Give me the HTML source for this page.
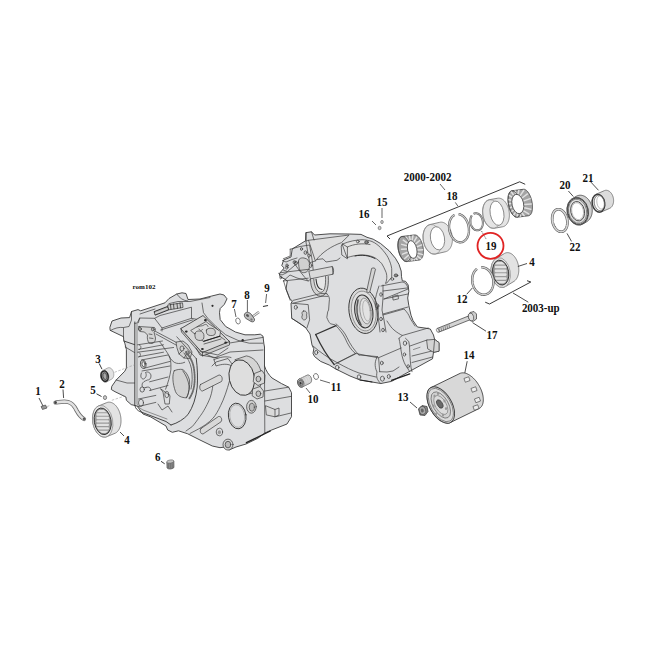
<!DOCTYPE html>
<html><head><meta charset="utf-8">
<style>
html,body{margin:0;padding:0;background:#fff;width:650px;height:650px;overflow:hidden}
svg{display:block}
.t{font-family:"Liberation Serif",serif;font-weight:bold;font-size:11px;fill:#111;text-anchor:middle}
</style></head><body>
<svg width="650" height="650" viewBox="0 0 650 650">
<rect width="650" height="650" fill="#fff"/>
<g id="left" stroke-linejoin="round" stroke-linecap="round">
<!-- silhouette -->
<path fill="#dddee0" stroke="#3a3a3a" stroke-width="0.9" d="M110,327 L112,321 L121,318 L129.6,317.6 L131.5,311.5 L138,309.6 L140.7,310.8 L165,302.8 L169,298.5 L176.8,294 L182,292.8 L186,293.5 L188,299.5 L200,299 L211.8,296 L220,294 L224,295 L227,298.8 L224.3,304.4 L220.2,308.5 L219.5,312.7 L220.2,319.6 L225.7,326.5 L235.4,332 L245,334.8 L254.8,334.8 L260.3,334.2 L263,336.2 L263.8,343.2 L264.5,347 L264.5,366 C266,371 269,375 272,378 L281.4,383.5 L288.7,387.2 L291.5,392.7 L291.5,416.7 L287,424 L270.4,430.5 L264.5,433.2 L257.8,438.3 L246,444 L236,447 L229,450 L225,447 L220,447.7 L212.3,446 L200,440 L187.7,433.8 L178.5,430.8 L172.3,432.3 L167.7,430 L166,426 L150.8,417 L143,414 L137,406 L131.2,404.6 L126.4,400.3 L125.9,397 L115,391.7 L111.3,389.5 L111.8,386.3 L116.2,380 L124.8,371.2 L126.4,368 L126.4,349.7 L124.8,343.2 L123.7,340 L123.5,336.7 L110.5,330.5 Z"/>
<g fill="none" stroke="#3a3a3a" stroke-width="0.7">
<!-- left ear inner -->
<path d="M110.5,330.5 C115,328 119,327 123.5,327.5 L129,326.5 L131.5,320 L131.5,311.5"/>
<path d="M123.5,336.7 L123.5,328"/>
<path stroke="#333" stroke-width="0.9" d="M123.8,341 L134.5,344.6"/><path d="M125.2,347 L134.5,352.5"/>
<path d="M116.2,380 L127,383 L134.5,383"/>
<!-- flange (double line) -->
<path stroke="#333" stroke-width="0.9" d="M134.8,322 L134.8,405 Q135.5,410 141,412 L166,421.5 L171,425"/>
<path stroke="#555" stroke-width="0.6" d="M137,324 L137,404 Q138,408 143,410 L167,419"/>
<!-- top deck lines -->
<path d="M140,314 L155,309 M169,303.6 L178,301.5 L190,301.5 L210,297.5"/>
<path d="M137.7,322 L140,318 L154.6,318.3 L160,315.5 L191.5,307.2 L191.5,318.3 L162,328 L154.6,318.3"/>
<path d="M162,328 L162,331 M191.5,318.3 L205,321"/>
<path d="M154.5,311.5 L167.5,306.5 L168.8,309.8 L155.5,315 Z" fill="#b8b8b8" stroke="#222" stroke-width="0.9"/>
<path d="M155,313.5 L168,308.3" stroke="#eee" stroke-width="0.6"/>
<path d="M168,305 L182.5,302.8 L183,307.5 L169,309.8 Z" fill="#cfcfcf" stroke="#333" stroke-width="0.7"/>
<path stroke="#333" stroke-width="0.8" d="M170.5,304.5 L171,309.3 M173.5,304 L174,308.8 M177,303.5 L177.5,308.3 M180,303 L180.5,307.8"/>

<path d="M176.8,294 Q181,300.5 187.8,301"/>
<!-- lifter guide -->
<path d="M134.8,323.5 L138.5,322.6 L139.5,318"/>
<path d="M139,326.5 L154.5,327.5 C156,329 155.5,331 154,332 L155.5,338 C155.5,341 154.5,343 152,343.5 L149,343 C147.5,341 147,338 147.5,335 L144.5,332 L140,331.5 C138,330.5 138,327.5 139,326.5Z" fill="#d4d4d4"/>
<ellipse cx="140" cy="329" rx="1.4" ry="1.6" fill="#bbb"/>
<ellipse cx="152.8" cy="329.3" rx="1.4" ry="1.6" fill="#bbb"/>
<path d="M149,334 L152,334.5 M149.5,338 L153,338.5"/>
<!-- push rod double line -->
<path d="M155.2,331.2 L178.2,343.4 M156,334 L176.4,345.2"/>
<path d="M160.7,330 L193,319.8"/>
<!-- tubes -->
<path d="M137.6,344.8 L162.5,341 M138.5,349.4 L163.5,344.8"/>
<path d="M139.5,345 C141.5,346 141.5,348.5 139.5,349.5"/>
<path d="M137.6,352.2 L173.6,347.5 M138.5,356.8 L163.5,352.2"/>
<path d="M139,352.5 C141,353.5 141,356 139,357"/>
<ellipse cx="143.2" cy="364.2" rx="2.8" ry="4.2" fill="#cfcfcf" transform="rotate(-10 143.2 364.2)"/>
<ellipse cx="143.5" cy="364.2" rx="1.5" ry="2.6" fill="#f2f2f2" transform="rotate(-10 143.5 364.2)"/>
<path d="M141.3,360 L168,355 M144,368.3 L170,361.4"/>
<path d="M141.5,373 C140,376 141,379 143.5,379 C146,378 147,375 145.5,372.5 C148,371 151,373 151,376 C151,379 149,380 147.5,380 C145,381 142,382 142,385 C142,387.5 144,388.5 146,387.5"/>
<path d="M149.6,381.8 L168,377 M149.6,390.5 L168,385.5 M146,387.5 C149,386 151,388 150.8,390.5"/>
<path d="M142,371 L170,366"/>
<ellipse cx="142.2" cy="389.5" rx="2.2" ry="2.6"/>
<path d="M138.5,399 L155.8,395.4 M138.5,406.5 L155.8,402.4"/>
<ellipse cx="141" cy="402.8" rx="2.5" ry="3.6"/>
<!-- cam chest inner line -->
<path d="M159.8,342 C161.5,344 163,346 164.4,348.5 C166,351 168,353.5 169,355.9 C170.5,359 171,362 170.9,366 L170.9,369.7 C170,376 168,383 165.6,389.2"/>
<path d="M169,355.9 C171,360 173.5,362.5 176.4,363.2 C179,363.8 182,363.5 184.7,362.3"/>
<path d="M160.7,389 L163,392 L165,404 L169.3,404 L170,396 Z"/>
<ellipse cx="166.8" cy="394.5" rx="2" ry="3.2"/>
<path d="M158,404 L162,410 L168,406 L172,412"/>
<!-- cam follower boss -->
<path d="M176.4,342 L183,341 L188,345 L192,352 L190,358.6 L184,358 L179,354 L177,348 Z" fill="#d2d2d2"/>
<ellipse cx="182" cy="348.5" rx="2" ry="2.6"/>
<ellipse cx="187.5" cy="353" rx="1.6" ry="2"/>
<path d="M179,354 L182,351 M184,358 L186,355"/>
<!-- cam crescent -->
<path d="M174.2,370.8 C172,375 172.5,383 175.5,391.7 C177.5,396 181.6,397.8 186.5,397.8 C189,393 190.2,386 189.5,380 C188,375 186,372 182.8,369.5 C180,369 176.5,369.5 174.2,370.8Z" fill="#d2d2d2"/>
<path d="M182.8,370.8 C186,375 188.5,381 189,386 C189.3,391 188.3,395 186.5,397.8"/>
<!-- chain -->
<path stroke="#6a6a6a" stroke-width="1.8" stroke-dasharray="1.4 1" d="M186,352 C190,357 193,362 194,369 C195,376 195,383 193.5,389 C192.5,393 191,396 189,399"/>
<path d="M184,353 C187.5,358 190.5,363 191.5,369 C192.5,376 192.5,383 191,389"/>
<!-- chest wall -->
<path stroke="#333" stroke-width="0.9" d="M196.3,358.7 C197.5,368 197.8,378 197.2,387 C196,398 193,407 188,414.5 C184,419 178,423 171,425"/>
<path d="M176.8,336.8 L196.3,358.7"/>
<!-- skirt -->
<path d="M213,384 C212.5,390 211,397 208.3,402 C205,409 202.5,413 199.7,416.7 C197,420.5 195,423.5 192.3,426.5 L186,431"/>
<path d="M229.5,381 C227,390 224,399 220.6,405.6 C218,411 216,414.5 213.2,418 C208,423.5 203,426.5 198.5,429 L190,433.5"/>
<path d="M214,359.6 C220,357 226,356 231,357.5 M214,359.6 L216,366 C222,364 227,363.5 231,365.5"/>
<!-- ribs -->
<path d="M200.5,384.5 L219,375 C222,375 223,379 221.5,381.5 L202.5,391 C199.5,391 199,386 200.5,384.5Z" fill="#d8d8d8"/>
<path d="M201,428.5 L218.5,416.5 C221.5,416 222.5,420 221,421.8 L203,434 C200,434 199.5,430 201,428.5Z" fill="#d8d8d8"/>
<!-- tappet block -->
<path d="M181,328.5 L181.5,332 L202.5,356 L229.5,345 L229.5,341.5 Z" fill="#cdcdcd"/>
<path d="M202.5,352.5 L202.5,356"/>
<path d="M181,328.5 L203,315.5 L229.5,341.5 L202.5,352.5 Z" fill="#d8d8d8" stroke="#2e2e2e" stroke-width="0.8"/>
<path d="M191,330.3 L206,321.5 L209,324 L220.5,331.5 L219.8,336.2 L203.7,341.3 Z" fill="#dcdcdc"/>
<path d="M195,333.5 C195.5,330.8 199,330.5 201.5,331.5 C204,332.5 204.5,336 203.5,339 C202,341 198.5,340.8 196.5,339.5 C195,338 194.8,336 195,333.5Z" fill="#d0d0d0"/>
<path d="M206.5,330 C207,328 210.5,327.8 213,328.6 C215.5,329.5 216,333 214.5,334.8 C212.5,336 209,335.8 207.5,334.5 C206.3,333 206.2,331.5 206.5,330Z" fill="#d0d0d0"/>
<path d="M197,327 C199,325.5 202,326.5 204,325 C206,323.5 207.5,325 208,326.5"/>
<path d="M199,329 C200,331 201.5,331 202.5,329.5"/>
<path stroke="#222" stroke-width="1.1" d="M203.7,341.3 L219.8,336.2"/>
<path d="M204,344 L221,339 M219.8,336.2 L225,340"/>
<path d="M200,351 L218,355 L228,348 M196,348 L200,355 L218,358"/>
<g fill="#2a2a2a" stroke="none">
<ellipse cx="205.4" cy="320.2" rx="1.4" ry="1.1"/><ellipse cx="186.3" cy="331.6" rx="1.4" ry="1.1"/>
<ellipse cx="225.7" cy="342.6" rx="1.4" ry="1.1"/><ellipse cx="202.4" cy="349" rx="1.4" ry="1.1"/>
<circle cx="212.5" cy="305.8" r="1.1"/><circle cx="242.7" cy="340.2" r="1.2"/>
</g>
<!-- deck inner edge -->
<path d="M202,303 L203.5,312.7 L207.7,318.2 L216,326.5 L225.7,334.8 L238,340.4 L249.2,343.2 L263,343.2"/>
<path d="M229.8,343 L263,337.4"/>
<path d="M206,354 L214,358 L230,352 L263,350"/>
<path d="M212,366 L216,362 L228,358.5 L232,364"/>
<!-- disc (cam cover / boss) -->
<path fill="#d4d4d4" d="M235.3,359.6 L246.4,355.9 C253,357 258.5,362 261.2,372 C263,380 261,388 256,392 L249,394 Z"/>
<ellipse cx="241.8" cy="377.6" rx="12.6" ry="18" transform="rotate(-12 241.8 377.6)" fill="#dedede" stroke="#333" stroke-width="0.9"/>
<!-- side tabs -->
<path d="M254.7,373.4 L262,370.5 L265,375 L264.5,383 L258,385.5 L253.5,382Z" fill="#d8d8d8"/>
<ellipse cx="258.4" cy="379" rx="2.4" ry="2.8" fill="#c4c4c4"/>
<path d="M252.9,389 L260,386.5 L263.5,391 L263,397 L257,399 L252.5,396Z" fill="#d8d8d8"/>
<ellipse cx="258.4" cy="393.7" rx="2.4" ry="2.8" fill="#c4c4c4"/>
<!-- right flange block -->
<path d="M264.5,366 L264.8,433"/>
<path d="M264.9,391 L288.7,387.2 M264.9,401 L291,396.4 M275.8,416.7 L291,413"/>
<path d="M265.8,405.8 L275,409.5 L275,416.8 L266.7,415 Z" fill="#dadada"/>
<path d="M275,409.5 L279,408 L279,415 L275,416.8"/>
<!-- lower oval + small bosses -->
<ellipse cx="237.2" cy="416" rx="8.8" ry="12.9" transform="rotate(-8 237.2 416)" stroke="#333" stroke-width="0.9"/>
<ellipse cx="237.2" cy="416" rx="7.4" ry="11.4" transform="rotate(-8 237.2 416)" stroke="#888" stroke-width="0.5"/>
<ellipse cx="251.4" cy="406.8" rx="4.8" ry="6.4" stroke="#333" fill="#d4d4d4"/>
<ellipse cx="251.8" cy="407.2" rx="2.6" ry="4" fill="#bdbdbd" stroke="#444"/>
<ellipse cx="219.4" cy="432" rx="3.2" ry="3.8" />
<ellipse cx="219.4" cy="432.3" rx="1.6" ry="2" fill="#999" stroke="none"/>
<ellipse cx="228" cy="444.6" rx="5" ry="5.5" stroke="#333" fill="#d6d6d6"/>
<ellipse cx="228" cy="444.6" rx="2.8" ry="3.3" fill="#bbb"/>
<path stroke="#222" stroke-width="1.3" d="M246.4,442.7 L270.4,431"/>
</g>
</g>

<g id="right" stroke-linejoin="round" stroke-linecap="round">
<path fill="#dddee0" stroke="#3a3a3a" stroke-width="0.9" d="M306.2,232.6 L311.5,231.8 L314.6,235 L330,233.8 L349.2,234 L361,234.4 L367,237.3 L373.2,239.2 L380.6,243.5 L389.2,250.8 L395.4,258.2 L399,264.4 L401.2,271 L401.5,276.7 L402.3,280.8 L405.5,281.3 L408.2,285 L408.8,291.5 L407.7,298 L408.8,305.5 L411,315.2 L413,320.6 L417.4,327 L426,328.2 L430.3,329 L433.5,335 L434.6,339.4 L439,342.6 L439,351.2 L433.5,352.3 L432.5,358.8 L411,370.6 L401.2,376 L391.5,381.4 L380.8,383.5 L372,382 L360,380 L350,376 L335.4,368.8 L329.2,365 L320.6,361.4 L314.5,356.5 L313,353.4 L313.8,348.8 L312,345 L310,334 L305.5,327.5 L300,323.8 L291.7,318.3 L291,303.5 L292.3,301 L289.8,298.6 L286,289 L287.3,281 L285,279.2 L280,276.7 L279.3,273.6 L284.2,268 L281.8,265.6 L283.6,260 L291,257 L292.2,249 L305.2,241 Z"/>
<g fill="none" stroke="#3a3a3a" stroke-width="0.7">
<!-- left deck wedge -->
<path d="M306.2,241 L308.5,240.3 L349.2,235 L341.5,242.6 C332,246 322,252 315.4,261 L310,262.6 Z" fill="#dedede"/>
<path d="M308.5,240.3 L315.4,261 M306.2,232.6 L306.2,241 M311.5,231.8 L314,240"/>
<!-- arch deck -->
<path d="M342.5,244 C350,241 356,240 362,239.7 C366,239.8 369,240.5 372,241.5 C375.5,243 378.5,245.5 380.6,247.7 C384,251.5 386.5,254.5 388,257.5 C390,261.5 391.2,265 391.7,268.6 L391.7,277.2 L386.8,283 L385.5,283.4 C386.5,281 386.8,279 386.8,277.2 C386.8,275 386.5,273 385.5,271 C384.5,268.5 383.2,266 381.8,263.7 C379.5,261 377,259 374.5,257.5 C370,255.5 366,255 362,255 C357,255 352,256 347.4,257.5 Z" fill="#e2e2e2"/>
<path d="M342.5,244 L341.2,246 L341.8,255 L347.4,258.8 L347.4,257.5 M342.5,244 L347.4,247 L347.4,257.5"/>
<path d="M355,256 C362,254.3 369,255.5 375,258.5" stroke="#222" stroke-width="0.9"/>
<path d="M347.4,247 C354,244 362,243 370,244.5"/>
<!-- left block with holes -->
<path d="M290.2,249.2 L300,246.5 L309.6,245 L312.4,261.6 L313.8,276.8 L308.2,281 L297,278 L290,275 L283.3,281"/>
<path d="M283.3,258.8 L290.2,256 L290.2,249.2"/>
<path d="M298.5,262 C298,258.5 301,257.5 304,258 C307.5,258.5 309.6,261 309.6,265 C309.6,270 307,272.7 303.5,272.7 C300,272.5 298.7,269 298.5,262Z" fill="#d0d0d0"/>
<g fill="#c4c4c4">
<ellipse cx="295.8" cy="263" rx="1.5" ry="2"/><ellipse cx="310.6" cy="265.5" rx="1.4" ry="2"/>
<ellipse cx="305.5" cy="252.6" rx="1.5" ry="1.8"/><ellipse cx="309" cy="255.6" rx="1.3" ry="1.6"/>
<ellipse cx="287" cy="265.5" rx="1.2" ry="1.6"/><ellipse cx="301.5" cy="249" rx="1.1" ry="1.4"/>
</g>
<path d="M280.5,272.7 L309.6,269.2 M283.3,281 L308.2,278.2"/>
<path d="M282.5,260.5 L286,262 L292,259.5 L297,258 M283.5,270.1 L287.5,271.5 L295.4,264.8"/>
<path d="M278.7,273.4 L282,275 L287,272.5"/>
<ellipse cx="286.8" cy="267.6" rx="1.2" ry="1.6"/>
<ellipse cx="294.3" cy="262.2" rx="1.2" ry="1.6"/>
<ellipse cx="280.8" cy="277.5" rx="1" ry="1.4"/>
<path d="M295.4,264.8 C299,270 303,276 308.3,281"/>
<!-- wavy parting line near deck -->
<path d="M317,259.5 L323,258.8 L326,262 L332.3,261 L337,260.3 L340,258"/>
<!-- horizontal bar -->
<path d="M309.2,271 L332.3,266.5 L333,274.2 L310.8,278.8 Z" fill="#dadada"/>
<path d="M332.3,266.5 C334,268 334,272 333,274.2"/>
<!-- boss ring under bar -->
<path d="M310.5,279.5 C310.5,289 315,296.2 320.5,296.2 C326,296.2 329,289 328.3,276.5" fill="#d2d2d2" stroke="#333"/>
<path d="M313.8,279 C314,286 317,292.3 320.8,292.3 C324.5,292.3 326,286 325.5,276.5" fill="#e6e6e6"/>
<path d="M316,279 C316.5,285 318.5,289.5 322,289.5" stroke="#333" stroke-width="1.1"/>
<!-- left lower block -->
<path d="M283.6,281 L286,289 L290.2,300.4"/>
<path d="M293,300.4 L320.7,293.5 L326.8,293.7 M293,303.2 L322,296.2 L327.6,296.4"/>
<path d="M291.6,303.2 L308.2,304.6 L309.6,319.8 L306.9,328"/>
<ellipse cx="295.8" cy="307.3" rx="1.5" ry="2"/>
<path d="M303.5,311 C306,310.5 307.5,312.5 306.5,315 C307.5,317.5 306,320.5 303.5,319.8 C301.5,319 301.5,316 302.5,315 C301.5,313 302,311.5 303.5,311Z" fill="#cfcfcf"/>
<path d="M291.7,318.3 C296,321 300,323 305.5,327.5"/>
<ellipse cx="316.2" cy="352.5" rx="1.6" ry="2.1"/>
<!-- gasket wavy line -->
<path d="M326.8,293.7 C329,296 330,298 329.2,302 L328.6,310 L327.7,311.8 L326.8,317.4 C328,320.5 329,322.5 330.5,323.8 L335,324.8"/>
<!-- lower quad -->
<path d="M315.7,334.5 L336,325.7" stroke="#333" stroke-width="1.3"/>
<path d="M315.7,334.5 C321,346 327,356 334.2,364.5" stroke="#333" stroke-width="1.3"/>
<path d="M336,325.7 C340,330 343,334 345,338 C348,345 351,350 355.4,353.4 L334.2,364.5"/>
<path d="M336,323.8 C341,328 345,333 347,337.5 C350,344 354,350 359,355"/>
<ellipse cx="337.2" cy="367.5" rx="1.8" ry="2.2"/>
<!-- main bearing boss -->
<ellipse cx="363.5" cy="310.8" rx="14.5" ry="22.8" transform="rotate(-8 363.5 310.8)" fill="#d8d8d8" stroke="#333" stroke-width="0.9"/>
<ellipse cx="363.8" cy="311" rx="12.3" ry="20" transform="rotate(-8 363.8 311)" fill="#e0e0e0" stroke="#666" stroke-width="0.6"/>
<ellipse cx="363.8" cy="311.4" rx="9" ry="16.6" transform="rotate(-8 363.8 311.4)" fill="#d6d6d6" stroke="#333" stroke-width="1"/>
<path d="M358,300 C356,308 357,318 361,325" stroke="#555" stroke-width="1.6"/>
<ellipse cx="365.5" cy="311" rx="5.5" ry="13" transform="rotate(-8 365.5 311)" fill="#e2e2e2" stroke="#666" stroke-width="0.6"/>
<ellipse cx="366.5" cy="310.8" rx="3.6" ry="10.5" transform="rotate(-8 366.5 310.8)" stroke="#888" stroke-width="0.5"/>
<!-- pin -->
<path d="M372,268.2 C373.5,267.5 375,268 375.5,269.2 L369.8,292 C369,293 367.2,292.8 366.8,291.6 Z" fill="#d4d4d4"/>
<!-- bolt holes -->
<ellipse cx="366.5" cy="242.2" rx="1.8" ry="1.5" fill="#888"/>
<ellipse cx="357.8" cy="241.5" rx="1.4" ry="1.3"/>
<ellipse cx="396" cy="275.4" rx="1.8" ry="1.5" fill="#888"/>
<ellipse cx="392.3" cy="279" rx="1.4" ry="1.3"/>
<!-- right boxes -->
<path d="M381,286 L402,282 C405,282 407.5,285 408,289 L384,299"/>
<path d="M383,291 L407,288"/>
<path d="M384,299 L408,294 M383,314 L408,307"/>
<path d="M393,296.4 L398,295 L398.5,298.8 L393.5,300Z"/>
<!-- gasket column -->
<path d="M379,286 C377,292 375.5,297 375,302 C375.5,305 376.5,308 377,311 L379,323 L380,332"/>
<path d="M383,285 L383,298 L382,310 L384,320 L386,332"/>
<ellipse cx="381" cy="294.5" rx="1.3" ry="1.8"/>
<ellipse cx="377.3" cy="306" rx="1.5" ry="2.2"/>
<ellipse cx="381" cy="319" rx="1.3" ry="1.8"/>
<ellipse cx="383" cy="330" rx="1.3" ry="1.8"/>
<!-- big skirt surface lower right -->
<path d="M383,315 L404,309 C407,312 409,315 410,318 C412,321 413.5,324 415,326"/>
<path d="M387,321 C389.5,325 391.5,328 394,330 C397,332.5 399.5,334 402.3,335.5 L428.2,328"/>
<path d="M399,338.3 L402.3,335.5"/>
<!-- gasket column 2 -->
<path d="M399,338.3 C400,343 400.5,347 401.2,351.2 C402,357 403.5,361.5 405.5,365.2 L409.8,371.7" />
<path d="M405.5,338.3 L408.8,341.5 C409.5,345 409.8,349 409.8,352.3 C410,358 410.5,363 411,367.4 L412,371.7"/>
<ellipse cx="405" cy="343.2" rx="1.7" ry="2.2"/>
<ellipse cx="404.5" cy="354.5" rx="1.2" ry="1.6"/>
<ellipse cx="408.2" cy="366.3" rx="1.2" ry="1.6"/>
<path d="M410,346 L427,340 M412,356 L432,351 M412,362.5 L432.5,357"/>
<path d="M413.5,349.5 L420,347.3" stroke="#666"/>
<!-- tab -->
<path d="M427,340 L434.6,339.4 L439,342.6 L439,351.2 L433.5,352.3 L428,349 Z" fill="#d4d4d4"/>
<path d="M434.6,339.4 L433.5,352.3"/>
<!-- lower box -->
<path d="M378.6,357.7 L401.2,348 M378.6,357.7 L379.7,371.7"/>
<path d="M377.5,356.6 C375,360 374,366 377,372 C376,377 377,380 380.8,383.5"/>
<ellipse cx="382.4" cy="378.7" rx="2" ry="2.5"/>
<ellipse cx="388.8" cy="376.5" rx="1.5" ry="2"/>
<ellipse cx="381.8" cy="363" rx="1.4" ry="1.8"/>
<path d="M379.7,371.7 L387,372 L393,371 L399,367"/>
<path d="M391.5,380.3 L409.8,373.8" stroke="#222" stroke-width="1.3"/>
<!-- lower middle -->
<path d="M359,355 L377.5,356.6"/>
<path d="M313,346 C320,352 328,358 337.8,363 C345,367 352,370.5 359,373 L376,377"/>
<ellipse cx="359" cy="377" rx="1.8" ry="2.2"/>
<path d="M337,363 L355.4,354 M355.4,353.4 L377.5,357.7"/>
<path d="M360,380 L372,382" stroke="#222" stroke-width="1"/>
<!-- right vertical line of big face -->
</g>
</g>

<polyline points="114.5,372.3 134.5,364.8" fill="none" stroke="#888" stroke-width="0.5" stroke-dasharray="2.5 1.5"/>
<polyline points="111.8,400.3 124.8,396" fill="none" stroke="#888" stroke-width="0.5" stroke-dasharray="2.5 1.5"/>
<polyline points="39,398 43,406" fill="none" stroke="#222" stroke-width="0.8" />
<path d="M41,406.5 L45.5,405 L47,408 L42.5,409.5Z" fill="#999" stroke="#333" stroke-width="0.6"/>
<polyline points="47,406.5 50,405.5" fill="none" stroke="#888" stroke-width="0.5" stroke-dasharray="2.5 1.5"/>
<polyline points="63,389.5 63.6,398" fill="none" stroke="#222" stroke-width="0.8" />
<path d="M55.5,402.5 C60,402 64,401 68,402 C72,403 74.5,406 76.6,410.5 C78.5,414 80.5,417 84,419" fill="none" stroke="#6a6a6a" stroke-width="4.2" stroke-linecap="round"/>
<path d="M55.5,402.5 C60,402 64,401 68,402 C72,403 74.5,406 76.6,410.5 C78.5,414 80.5,417 84,419" fill="none" stroke="#e2e2e2" stroke-width="2.6" stroke-linecap="round"/>
<ellipse cx="55.60" cy="402.40" rx="1.30" ry="1.50" transform="rotate(0 55.60 402.40)" fill="#444" stroke="none" stroke-width="0" />
<ellipse cx="84.00" cy="418.80" rx="1.20" ry="1.40" transform="rotate(0 84.00 418.80)" fill="#555" stroke="none" stroke-width="0" />
<polyline points="99.2,363.5 102,369.2" fill="none" stroke="#222" stroke-width="0.9" />
<path d="M100.50,375.20 L100.51,374.89 L100.53,374.59 L100.56,374.30 L100.60,374.00 L100.66,373.72 L100.72,373.44 L100.80,373.17 L100.89,372.91 L100.98,372.65 L101.09,372.41 L101.21,372.18 L101.33,371.95 L101.47,371.74 L101.61,371.54 L101.77,371.36 L101.93,371.19 L102.10,371.03 L102.27,370.88 L102.46,370.75 L102.65,370.64 L107.55,368.04 L107.74,367.94 L107.94,367.85 L108.14,367.78 L108.35,367.73 L108.56,367.69 L108.78,367.67 L109.00,367.67 L109.21,367.68 L109.43,367.71 L109.65,367.75 L109.87,367.81 L110.09,367.89 L110.31,367.98 L110.53,368.09 L110.74,368.21 L110.95,368.35 L111.15,368.50 L111.36,368.67 L111.55,368.85 L111.75,369.04 L111.93,369.24 L112.11,369.46 L112.28,369.69 L112.45,369.93 L112.61,370.18 L112.76,370.43 L112.90,370.70 L113.03,370.98 L113.15,371.26 L113.26,371.55 L113.37,371.84 L113.46,372.14 L113.54,372.44 L113.61,372.75 L113.67,373.06 L113.72,373.37 L113.76,373.68 L113.78,373.99 L113.80,374.30 L113.80,374.60 L113.79,374.91 L113.77,375.21 L113.74,375.50 L113.70,375.80 L113.64,376.08 L113.58,376.36 L113.50,376.63 L113.42,376.89 L113.32,377.15 L113.21,377.39 L113.09,377.62 L112.97,377.85 L112.83,378.06 L112.69,378.26 L112.53,378.44 L112.37,378.62 L112.20,378.77 L112.03,378.92 L111.84,379.05 L111.65,379.16 L106.75,381.76 L106.56,381.86 L106.36,381.95 L106.16,382.02 L105.95,382.07 L105.74,382.11 L105.52,382.13 L105.31,382.13 L105.09,382.12 L104.87,382.09 L104.65,382.05 L104.43,381.99 L104.21,381.91 L103.99,381.82 L103.78,381.71 L103.56,381.59 L103.35,381.45 L103.15,381.30 L102.94,381.13 L102.75,380.95 L102.55,380.76 L102.37,380.56 L102.19,380.34 L102.02,380.11 L101.85,379.87 L101.69,379.62 L101.54,379.37 L101.40,379.10 L101.27,378.82 L101.15,378.54 L101.04,378.25 L100.93,377.96 L100.84,377.66 L100.76,377.36 L100.69,377.05 L100.63,376.74 L100.58,376.43 L100.54,376.12 L100.52,375.81 L100.50,375.50Z" fill="#e2e2e2" stroke="#777" stroke-width="0.6" stroke-linejoin="round"/>
<ellipse cx="104.70" cy="376.20" rx="4.10" ry="6.00" transform="rotate(-12 104.70 376.20)" fill="#e0e0e0" stroke="#777" stroke-width="0.6" />
<ellipse cx="104.70" cy="376.20" rx="3.50" ry="5.30" transform="rotate(-12 104.70 376.20)" fill="#8a8a8a" stroke="#1e1e1e" stroke-width="1.3" />
<ellipse cx="104.90" cy="376.20" rx="1.90" ry="3.40" transform="rotate(-12 104.90 376.20)" fill="#a8a8a8" stroke="#333" stroke-width="0.6" />
<polyline points="96.5,393.8 101.5,396.5" fill="none" stroke="#222" stroke-width="0.9" />
<ellipse cx="105.00" cy="397.60" rx="1.60" ry="2.00" transform="rotate(0 105.00 397.60)" fill="#ccc" stroke="#3c3c3c" stroke-width="0.6" />
<path d="M92.47,418.90 L92.47,418.08 L92.51,417.27 L92.57,416.48 L92.66,415.69 L92.78,414.93 L92.93,414.18 L93.10,413.44 L93.30,412.73 L93.52,412.05 L93.77,411.39 L94.05,410.75 L94.34,410.15 L94.66,409.57 L95.01,409.03 L95.37,408.52 L95.75,408.05 L96.16,407.61 L96.58,407.21 L97.01,406.85 L97.47,406.53 L97.94,406.25 L98.42,406.01 L106.52,402.71 L107.01,402.51 L107.51,402.36 L108.02,402.24 L108.54,402.17 L109.07,402.15 L109.60,402.17 L110.13,402.23 L110.67,402.33 L111.20,402.48 L111.73,402.67 L112.27,402.90 L112.80,403.17 L113.32,403.49 L113.83,403.84 L114.34,404.23 L114.84,404.66 L115.33,405.13 L115.80,405.63 L116.26,406.17 L116.70,406.73 L117.13,407.33 L117.55,407.96 L117.94,408.62 L118.31,409.30 L118.67,410.00 L119.00,410.73 L119.31,411.48 L119.59,412.24 L119.86,413.02 L120.09,413.82 L120.30,414.63 L120.49,415.44 L120.65,416.26 L120.78,417.09 L120.89,417.92 L120.96,418.75 L121.01,419.58 L121.03,420.40 L121.03,421.22 L120.99,422.03 L120.93,422.82 L120.84,423.61 L120.72,424.38 L120.57,425.12 L120.40,425.86 L120.20,426.57 L119.98,427.25 L119.73,427.91 L119.45,428.55 L119.16,429.15 L118.84,429.73 L118.49,430.27 L118.13,430.78 L117.75,431.25 L117.34,431.69 L116.92,432.09 L116.49,432.45 L116.03,432.77 L115.56,433.05 L115.08,433.29 L106.98,436.59 L106.49,436.79 L105.99,436.94 L105.48,437.06 L104.96,437.13 L104.43,437.15 L103.90,437.13 L103.37,437.07 L102.83,436.97 L102.30,436.82 L101.77,436.63 L101.23,436.40 L100.70,436.13 L100.18,435.81 L99.67,435.46 L99.16,435.07 L98.66,434.64 L98.17,434.17 L97.70,433.67 L97.24,433.13 L96.80,432.57 L96.37,431.97 L95.95,431.34 L95.56,430.68 L95.19,430.00 L94.83,429.30 L94.50,428.57 L94.19,427.82 L93.91,427.06 L93.64,426.27 L93.41,425.48 L93.20,424.67 L93.01,423.86 L92.85,423.04 L92.72,422.21 L92.61,421.38 L92.54,420.55 L92.49,419.72Z" fill="#e3e3e3" stroke="#5a5a5a" stroke-width="0.7" stroke-linejoin="round"/>
<ellipse cx="102.70" cy="421.30" rx="10.00" ry="16.00" transform="rotate(-10 102.70 421.30)" fill="#e6e6e6" stroke="#777" stroke-width="0.6" />
<ellipse cx="102.70" cy="421.30" rx="8.40" ry="13.44" transform="rotate(-10 102.70 421.30)" fill="#9a9a9a" stroke="#2e2e2e" stroke-width="0.9" />
<clipPath id="k1"><ellipse cx="102.70" cy="421.30" rx="7.56" ry="12.10" transform="rotate(-10 102.70 421.30)"/></clipPath>
<g clip-path="url(#k1)"><rect x="96.40" y="409.90" width="12.60" height="2.35" rx="1.04" fill="#e2e2e2"/><rect x="96.40" y="413.35" width="12.60" height="2.35" rx="1.04" fill="#e2e2e2"/><rect x="96.40" y="416.81" width="12.60" height="2.35" rx="1.04" fill="#e2e2e2"/><rect x="96.40" y="420.26" width="12.60" height="2.35" rx="1.04" fill="#e2e2e2"/><rect x="96.40" y="423.72" width="12.60" height="2.35" rx="1.04" fill="#e2e2e2"/><rect x="96.40" y="427.18" width="12.60" height="2.35" rx="1.04" fill="#e2e2e2"/><rect x="96.40" y="430.63" width="12.60" height="2.35" rx="1.04" fill="#e2e2e2"/></g>
<polyline points="120,432 124,436" fill="none" stroke="#222" stroke-width="0.8" />
<polyline points="161,461.3 164.7,463.8" fill="none" stroke="#222" stroke-width="0.9" />
<path d="M166.8,462 L173.9,461 L174,467.5 C172,469.5 168.5,469.5 167,468 Z" fill="#8c8c8c" stroke="#444" stroke-width="0.6"/>
<ellipse cx="170.30" cy="461.50" rx="3.60" ry="1.60" transform="rotate(-8 170.30 461.50)" fill="#c4c4c4" stroke="#555" stroke-width="0.5" />
<polyline points="168.3,463.2 168.5,468.3" fill="none" stroke="#555" stroke-width="0.5" />
<polyline points="170.20000000000002,463.2 170.4,468.3" fill="none" stroke="#555" stroke-width="0.5" />
<polyline points="172.10000000000002,463.2 172.3,468.3" fill="none" stroke="#555" stroke-width="0.5" />
<polyline points="234.4,309 236,317" fill="none" stroke="#222" stroke-width="0.7" />
<ellipse cx="238.00" cy="321.00" rx="2.20" ry="3.00" transform="rotate(-15 238.00 321.00)" fill="none" stroke="#3c3c3c" stroke-width="0.6" />
<polyline points="247.4,300 247.4,312" fill="none" stroke="#222" stroke-width="0.7" />
<polyline points="252,317 259,312" fill="none" stroke="#777" stroke-width="2.4" />
<polyline points="252,317 259,312" fill="none" stroke="#e6e6e6" stroke-width="1.2" />
<path d="M244.5,314 C246,311.5 249,312 251,314 L254.5,319 C255,321.5 253,322.5 251,321.5 L246,318.5 C244.5,317.5 244,315.5 244.5,314Z" fill="#bdbdbd" stroke="#333" stroke-width="0.7"/>
<ellipse cx="247.50" cy="315.50" rx="1.60" ry="1.20" transform="rotate(35 247.50 315.50)" fill="#555" stroke="none" stroke-width="0" />
<ellipse cx="251.50" cy="319.50" rx="1.30" ry="1.00" transform="rotate(35 251.50 319.50)" fill="#777" stroke="none" stroke-width="0" />
<polyline points="266.6,294 265.6,303" fill="none" stroke="#222" stroke-width="0.7" />
<polyline points="263,306.5 268,305.5" fill="none" stroke="#333" stroke-width="1.2" />
<path d="M297.70,382.24 L297.70,382.02 L297.71,381.81 L297.73,381.60 L297.76,381.39 L297.80,381.19 L297.85,380.99 L297.90,380.80 L297.96,380.61 L298.03,380.43 L298.11,380.26 L298.20,380.10 L298.29,379.94 L298.39,379.79 L298.49,379.65 L298.61,379.52 L298.72,379.40 L298.85,379.29 L298.98,379.19 L299.11,379.10 L299.25,379.02 L306.95,375.22 L307.09,375.15 L307.24,375.09 L307.39,375.05 L307.54,375.01 L307.70,374.99 L307.85,374.98 L308.01,374.98 L308.18,374.99 L308.34,375.01 L308.50,375.04 L308.66,375.09 L308.82,375.15 L308.99,375.21 L309.14,375.29 L309.30,375.38 L309.46,375.48 L309.61,375.59 L309.76,375.71 L309.91,375.84 L310.05,375.98 L310.19,376.13 L310.32,376.29 L310.45,376.45 L310.58,376.62 L310.69,376.80 L310.81,376.99 L310.91,377.18 L311.01,377.38 L311.10,377.58 L311.19,377.78 L311.27,377.99 L311.34,378.21 L311.40,378.42 L311.45,378.64 L311.50,378.86 L311.54,379.08 L311.57,379.30 L311.59,379.52 L311.60,379.75 L311.60,379.96 L311.60,380.18 L311.59,380.39 L311.57,380.60 L311.54,380.81 L311.50,381.01 L311.45,381.21 L311.40,381.40 L311.34,381.59 L311.27,381.77 L311.19,381.94 L311.10,382.10 L311.01,382.26 L310.91,382.41 L310.81,382.55 L310.69,382.68 L310.58,382.80 L310.45,382.91 L310.32,383.01 L310.19,383.10 L310.05,383.18 L302.35,386.98 L302.21,387.05 L302.06,387.11 L301.91,387.15 L301.76,387.19 L301.60,387.21 L301.45,387.22 L301.29,387.22 L301.12,387.21 L300.96,387.19 L300.80,387.16 L300.64,387.11 L300.48,387.05 L300.31,386.99 L300.15,386.91 L300.00,386.82 L299.84,386.72 L299.69,386.61 L299.54,386.49 L299.39,386.36 L299.25,386.22 L299.11,386.07 L298.98,385.91 L298.85,385.75 L298.72,385.58 L298.61,385.40 L298.49,385.21 L298.39,385.02 L298.29,384.82 L298.20,384.62 L298.11,384.42 L298.03,384.21 L297.96,383.99 L297.90,383.78 L297.85,383.56 L297.80,383.34 L297.76,383.12 L297.73,382.90 L297.71,382.68 L297.70,382.45Z" fill="#dcdcdc" stroke="#3c3c3c" stroke-width="0.7" stroke-linejoin="round"/>
<ellipse cx="300.80" cy="383.00" rx="3.00" ry="4.30" transform="rotate(-15 300.80 383.00)" fill="#d4d4d4" stroke="#3c3c3c" stroke-width="0.7" />
<ellipse cx="303.00" cy="381.80" rx="3.00" ry="4.30" transform="rotate(-15 303.00 381.80)" fill="none" stroke="#bdbdbd" stroke-width="0.4" />
<ellipse cx="305.00" cy="380.85" rx="3.00" ry="4.30" transform="rotate(-15 305.00 380.85)" fill="none" stroke="#bdbdbd" stroke-width="0.4" />
<ellipse cx="307.00" cy="379.90" rx="3.00" ry="4.30" transform="rotate(-15 307.00 379.90)" fill="none" stroke="#bdbdbd" stroke-width="0.4" />
<ellipse cx="300.80" cy="383.00" rx="2.10" ry="3.10" transform="rotate(-15 300.80 383.00)" fill="#999" stroke="#333" stroke-width="0.5" />
<ellipse cx="300.60" cy="383.20" rx="0.90" ry="1.30" transform="rotate(-15 300.60 383.20)" fill="#333" stroke="none" stroke-width="0" />
<polyline points="306,388 310,393" fill="none" stroke="#222" stroke-width="0.7" />
<ellipse cx="316.00" cy="376.50" rx="2.40" ry="3.00" transform="rotate(-20 316.00 376.50)" fill="none" stroke="#3c3c3c" stroke-width="0.6" />
<polyline points="320,380 330,383" fill="none" stroke="#222" stroke-width="0.7" />
<polyline points="382,208 382,218" fill="none" stroke="#222" stroke-width="0.7" />
<ellipse cx="382.00" cy="222.00" rx="1.30" ry="1.60" transform="rotate(0 382.00 222.00)" fill="#ccc" stroke="#3c3c3c" stroke-width="0.5" />
<ellipse cx="379.60" cy="228.00" rx="1.50" ry="1.70" transform="rotate(0 379.60 228.00)" fill="#ccc" stroke="#3c3c3c" stroke-width="0.5" />
<polyline points="372,221 376,225" fill="none" stroke="#222" stroke-width="0.7" />
<polyline points="440,184 445,190" fill="none" stroke="#222" stroke-width="0.7" />
<polyline points="390,239 387,236 519.7,181.8 525.2,184.3" fill="none" stroke="#222" stroke-width="0.9" />
<polyline points="455.3,202.4 457.8,206" fill="none" stroke="#222" stroke-width="0.7" />
<clipPath id="q2"><path d="M397.88,245.09 L397.89,244.46 L397.92,243.86 L397.96,243.26 L398.03,242.68 L398.11,242.12 L398.21,241.58 L398.33,241.06 L398.46,240.56 L398.62,240.08 L398.78,239.63 L398.96,239.20 L399.16,238.80 L399.38,238.43 L399.60,238.09 L399.84,237.77 L400.10,237.49 L400.36,237.24 L400.64,237.02 L400.92,236.84 L401.22,236.68 L401.52,236.56 L401.84,236.48 L402.16,236.43 L414.46,234.93 L414.79,234.91 L415.12,234.93 L415.46,234.99 L415.80,235.07 L416.14,235.19 L416.49,235.35 L416.83,235.54 L417.18,235.76 L417.53,236.01 L417.87,236.30 L418.21,236.61 L418.55,236.96 L418.88,237.33 L419.21,237.74 L419.53,238.16 L419.84,238.62 L420.14,239.10 L420.44,239.60 L420.72,240.12 L421.00,240.67 L421.26,241.23 L421.51,241.81 L421.75,242.41 L421.97,243.01 L422.18,243.64 L422.37,244.27 L422.55,244.91 L422.72,245.56 L422.87,246.21 L423.00,246.87 L423.11,247.53 L423.21,248.19 L423.29,248.84 L423.35,249.50 L423.39,250.14 L423.42,250.78 L423.42,251.41 L423.41,252.04 L423.38,252.64 L423.34,253.24 L423.27,253.82 L423.19,254.38 L423.09,254.92 L422.97,255.44 L422.84,255.94 L422.69,256.42 L422.52,256.87 L422.33,257.30 L422.14,257.70 L421.92,258.07 L421.70,258.41 L421.46,258.73 L421.20,259.01 L420.94,259.26 L420.66,259.48 L420.38,259.66 L420.08,259.82 L419.77,259.94 L419.46,260.02 L419.14,260.07 L406.84,261.57 L406.51,261.59 L406.18,261.57 L405.84,261.51 L405.50,261.43 L405.16,261.31 L404.81,261.15 L404.46,260.96 L404.12,260.74 L403.77,260.49 L403.43,260.20 L403.09,259.89 L402.75,259.54 L402.42,259.17 L402.09,258.76 L401.77,258.34 L401.46,257.88 L401.16,257.40 L400.86,256.90 L400.58,256.38 L400.31,255.83 L400.04,255.27 L399.79,254.69 L399.56,254.09 L399.33,253.49 L399.12,252.86 L398.93,252.23 L398.75,251.59 L398.58,250.94 L398.44,250.29 L398.31,249.63 L398.19,248.97 L398.09,248.31 L398.01,247.66 L397.95,247.00 L397.91,246.36 L397.88,245.72Z"/></clipPath>
<path d="M397.88,245.09 L397.89,244.46 L397.92,243.86 L397.96,243.26 L398.03,242.68 L398.11,242.12 L398.21,241.58 L398.33,241.06 L398.46,240.56 L398.62,240.08 L398.78,239.63 L398.96,239.20 L399.16,238.80 L399.38,238.43 L399.60,238.09 L399.84,237.77 L400.10,237.49 L400.36,237.24 L400.64,237.02 L400.92,236.84 L401.22,236.68 L401.52,236.56 L401.84,236.48 L402.16,236.43 L414.46,234.93 L414.79,234.91 L415.12,234.93 L415.46,234.99 L415.80,235.07 L416.14,235.19 L416.49,235.35 L416.83,235.54 L417.18,235.76 L417.53,236.01 L417.87,236.30 L418.21,236.61 L418.55,236.96 L418.88,237.33 L419.21,237.74 L419.53,238.16 L419.84,238.62 L420.14,239.10 L420.44,239.60 L420.72,240.12 L421.00,240.67 L421.26,241.23 L421.51,241.81 L421.75,242.41 L421.97,243.01 L422.18,243.64 L422.37,244.27 L422.55,244.91 L422.72,245.56 L422.87,246.21 L423.00,246.87 L423.11,247.53 L423.21,248.19 L423.29,248.84 L423.35,249.50 L423.39,250.14 L423.42,250.78 L423.42,251.41 L423.41,252.04 L423.38,252.64 L423.34,253.24 L423.27,253.82 L423.19,254.38 L423.09,254.92 L422.97,255.44 L422.84,255.94 L422.69,256.42 L422.52,256.87 L422.33,257.30 L422.14,257.70 L421.92,258.07 L421.70,258.41 L421.46,258.73 L421.20,259.01 L420.94,259.26 L420.66,259.48 L420.38,259.66 L420.08,259.82 L419.77,259.94 L419.46,260.02 L419.14,260.07 L406.84,261.57 L406.51,261.59 L406.18,261.57 L405.84,261.51 L405.50,261.43 L405.16,261.31 L404.81,261.15 L404.46,260.96 L404.12,260.74 L403.77,260.49 L403.43,260.20 L403.09,259.89 L402.75,259.54 L402.42,259.17 L402.09,258.76 L401.77,258.34 L401.46,257.88 L401.16,257.40 L400.86,256.90 L400.58,256.38 L400.31,255.83 L400.04,255.27 L399.79,254.69 L399.56,254.09 L399.33,253.49 L399.12,252.86 L398.93,252.23 L398.75,251.59 L398.58,250.94 L398.44,250.29 L398.31,249.63 L398.19,248.97 L398.09,248.31 L398.01,247.66 L397.95,247.00 L397.91,246.36 L397.88,245.72Z" fill="#a4a4a4" stroke="#3c3c3c" stroke-width="0.8" stroke-linejoin="round"/>
<g clip-path="url(#q2)"><line x1="417.64" y1="250.02" x2="422.91" y2="249.78" stroke="#e0e0e0" stroke-width="1.5" stroke-linecap="round"/><line x1="417.66" y1="253.17" x2="422.66" y2="254.64" stroke="#e0e0e0" stroke-width="1.5" stroke-linecap="round"/><line x1="417.03" y1="255.87" x2="421.15" y2="258.88" stroke="#e0e0e0" stroke-width="1.5" stroke-linecap="round"/><line x1="415.82" y1="257.81" x2="418.55" y2="261.98" stroke="#e0e0e0" stroke-width="1.5" stroke-linecap="round"/><line x1="414.16" y1="258.74" x2="415.19" y2="263.59" stroke="#e0e0e0" stroke-width="1.5" stroke-linecap="round"/><line x1="412.28" y1="258.56" x2="411.47" y2="263.49" stroke="#e0e0e0" stroke-width="1.5" stroke-linecap="round"/><line x1="410.38" y1="257.29" x2="407.84" y2="261.70" stroke="#e0e0e0" stroke-width="1.5" stroke-linecap="round"/><line x1="408.70" y1="255.07" x2="404.73" y2="258.45" stroke="#e0e0e0" stroke-width="1.5" stroke-linecap="round"/><line x1="407.45" y1="252.19" x2="402.53" y2="254.11" stroke="#e0e0e0" stroke-width="1.5" stroke-linecap="round"/><line x1="406.76" y1="248.98" x2="401.49" y2="249.22" stroke="#e0e0e0" stroke-width="1.5" stroke-linecap="round"/><line x1="406.74" y1="245.83" x2="401.74" y2="244.36" stroke="#e0e0e0" stroke-width="1.5" stroke-linecap="round"/><line x1="407.37" y1="243.13" x2="403.25" y2="240.12" stroke="#e0e0e0" stroke-width="1.5" stroke-linecap="round"/><line x1="408.58" y1="241.19" x2="405.85" y2="237.02" stroke="#e0e0e0" stroke-width="1.5" stroke-linecap="round"/><line x1="410.24" y1="240.26" x2="409.21" y2="235.41" stroke="#e0e0e0" stroke-width="1.5" stroke-linecap="round"/><line x1="412.12" y1="240.44" x2="412.93" y2="235.51" stroke="#e0e0e0" stroke-width="1.5" stroke-linecap="round"/><line x1="414.02" y1="241.71" x2="416.56" y2="237.30" stroke="#e0e0e0" stroke-width="1.5" stroke-linecap="round"/><line x1="415.70" y1="243.93" x2="419.67" y2="240.55" stroke="#e0e0e0" stroke-width="1.5" stroke-linecap="round"/><line x1="416.95" y1="246.81" x2="421.87" y2="244.89" stroke="#e0e0e0" stroke-width="1.5" stroke-linecap="round"/></g>
<ellipse cx="404.50" cy="249.00" rx="6.20" ry="12.80" transform="rotate(-12 404.50 249.00)" fill="none" stroke="#444" stroke-width="0.7" />
<ellipse cx="412.20" cy="249.50" rx="4.60" ry="9.00" transform="rotate(-12 412.20 249.50)" fill="#fff" stroke="#444" stroke-width="0.8" />
<path d="M422.99,237.07 L423.00,236.30 L423.03,235.55 L423.09,234.80 L423.18,234.06 L423.30,233.34 L423.44,232.64 L423.60,231.95 L423.79,231.29 L424.00,230.64 L424.24,230.02 L424.50,229.43 L424.79,228.86 L425.09,228.32 L425.42,227.81 L425.77,227.33 L426.13,226.89 L426.51,226.48 L426.92,226.10 L427.33,225.76 L427.76,225.46 L428.21,225.19 L428.66,224.97 L429.13,224.78 L429.61,224.63 L439.61,222.33 L440.10,222.23 L440.59,222.16 L441.09,222.14 L441.59,222.15 L442.10,222.21 L442.61,222.30 L443.11,222.44 L443.62,222.62 L444.13,222.83 L444.63,223.09 L445.12,223.38 L445.61,223.71 L446.09,224.08 L446.56,224.48 L447.02,224.92 L447.47,225.39 L447.91,225.89 L448.33,226.42 L448.74,226.98 L449.13,227.57 L449.50,228.19 L449.85,228.82 L450.19,229.49 L450.50,230.17 L450.79,230.87 L451.06,231.58 L451.31,232.31 L451.53,233.06 L451.73,233.81 L451.91,234.58 L452.06,235.35 L452.18,236.13 L452.28,236.90 L452.35,237.68 L452.39,238.46 L452.41,239.23 L452.40,240.00 L452.37,240.75 L452.31,241.50 L452.22,242.24 L452.11,242.96 L451.96,243.66 L451.80,244.35 L451.61,245.01 L451.40,245.66 L451.16,246.28 L450.90,246.87 L450.61,247.44 L450.31,247.98 L449.98,248.49 L449.63,248.97 L449.27,249.41 L448.88,249.82 L448.48,250.20 L448.07,250.54 L447.64,250.84 L447.19,251.11 L446.74,251.33 L446.27,251.52 L445.79,251.67 L435.79,253.97 L435.31,254.07 L434.81,254.14 L434.31,254.16 L433.81,254.15 L433.30,254.09 L432.80,254.00 L432.29,253.86 L431.78,253.68 L431.27,253.47 L430.77,253.21 L430.28,252.92 L429.79,252.59 L429.31,252.22 L428.84,251.82 L428.38,251.38 L427.93,250.91 L427.49,250.41 L427.07,249.88 L426.66,249.32 L426.27,248.73 L425.90,248.12 L425.55,247.48 L425.21,246.81 L424.90,246.13 L424.61,245.43 L424.34,244.72 L424.09,243.99 L423.87,243.24 L423.67,242.49 L423.49,241.72 L423.34,240.95 L423.22,240.17 L423.12,239.40 L423.05,238.62 L423.01,237.84Z" fill="#e4e4e4" stroke="#707070" stroke-width="0.8" stroke-linejoin="round"/>
<ellipse cx="432.70" cy="239.30" rx="9.50" ry="15.00" transform="rotate(-10 432.70 239.30)" fill="none" stroke="#8a8a8a" stroke-width="0.6" />
<ellipse cx="437.50" cy="238.30" rx="7.00" ry="11.70" transform="rotate(-10 437.50 238.30)" fill="#fff" stroke="#666" stroke-width="0.7" />
<path d="M458.59,214.17 L459.24,214.28 L459.89,214.45 L460.54,214.68 L461.17,214.96 L461.80,215.30 L462.42,215.70 L463.02,216.15 L463.60,216.65 L464.17,217.20 L464.71,217.80 L465.23,218.44 L465.73,219.12 L466.19,219.84 L466.62,220.60 L467.02,221.38 L467.39,222.20 L467.72,223.04 L468.02,223.91 L468.27,224.79 L468.49,225.69 L468.67,226.60 L468.80,227.51 L468.90,228.43 L468.95,229.34 L468.96,230.26 L468.93,231.16 L468.85,232.05 L468.74,232.92 L468.58,233.78 L468.38,234.61 L468.14,235.41 L467.86,236.18 L467.55,236.92 L467.20,237.63 L466.81,238.29 L466.39,238.91 L465.94,239.48 L465.46,240.01 L464.96,240.48 L464.43,240.90 L463.87,241.27 L463.29,241.59 L462.70,241.84 L462.09,242.04 L461.47,242.18 L460.83,242.27 L460.19,242.29 L459.54,242.25 L458.90,242.15 L458.25,241.99 L457.60,241.78 L456.96,241.50 L456.33,241.17 L455.71,240.79 L455.11,240.35 L454.52,239.86 L453.95,239.32 L453.40,238.74 L452.88,238.10 L452.38,237.43 L451.91,236.72 L451.47,235.97 L451.06,235.19 L450.68,234.38 L450.34,233.54 L450.04,232.68 L449.78,231.80 L449.55,230.91 L449.37,230.00 L449.22,229.09 L449.12,228.17 L449.06,227.25 L449.04,226.34 L449.06,225.43 L449.13,224.54 L449.24,223.66 L449.38,222.80 L449.57,221.97 L449.80,221.16 L450.07,220.38 L450.38,219.63 L450.72,218.92 L451.10,218.25 L451.51,217.62 L451.96,217.04 L452.43,216.50 L452.93,216.02 L453.46,215.58 L454.01,215.20 L454.58,214.88" fill="none" stroke="#555" stroke-width="2.3" stroke-linecap="butt"/>
<path d="M458.59,214.17 L459.24,214.28 L459.89,214.45 L460.54,214.68 L461.17,214.96 L461.80,215.30 L462.42,215.70 L463.02,216.15 L463.60,216.65 L464.17,217.20 L464.71,217.80 L465.23,218.44 L465.73,219.12 L466.19,219.84 L466.62,220.60 L467.02,221.38 L467.39,222.20 L467.72,223.04 L468.02,223.91 L468.27,224.79 L468.49,225.69 L468.67,226.60 L468.80,227.51 L468.90,228.43 L468.95,229.34 L468.96,230.26 L468.93,231.16 L468.85,232.05 L468.74,232.92 L468.58,233.78 L468.38,234.61 L468.14,235.41 L467.86,236.18 L467.55,236.92 L467.20,237.63 L466.81,238.29 L466.39,238.91 L465.94,239.48 L465.46,240.01 L464.96,240.48 L464.43,240.90 L463.87,241.27 L463.29,241.59 L462.70,241.84 L462.09,242.04 L461.47,242.18 L460.83,242.27 L460.19,242.29 L459.54,242.25 L458.90,242.15 L458.25,241.99 L457.60,241.78 L456.96,241.50 L456.33,241.17 L455.71,240.79 L455.11,240.35 L454.52,239.86 L453.95,239.32 L453.40,238.74 L452.88,238.10 L452.38,237.43 L451.91,236.72 L451.47,235.97 L451.06,235.19 L450.68,234.38 L450.34,233.54 L450.04,232.68 L449.78,231.80 L449.55,230.91 L449.37,230.00 L449.22,229.09 L449.12,228.17 L449.06,227.25 L449.04,226.34 L449.06,225.43 L449.13,224.54 L449.24,223.66 L449.38,222.80 L449.57,221.97 L449.80,221.16 L450.07,220.38 L450.38,219.63 L450.72,218.92 L451.10,218.25 L451.51,217.62 L451.96,217.04 L452.43,216.50 L452.93,216.02 L453.46,215.58 L454.01,215.20 L454.58,214.88" fill="none" stroke="#d0d0d0" stroke-width="1.2" stroke-linecap="butt"/>
<path d="M473.58,213.90 L473.95,213.70 L474.33,213.54 L474.72,213.42 L475.12,213.33 L475.52,213.28 L475.93,213.26 L476.35,213.29 L476.76,213.35 L477.18,213.44 L477.59,213.57 L477.99,213.74 L478.39,213.95 L478.79,214.18 L479.17,214.45 L479.54,214.76 L479.90,215.09 L480.25,215.45 L480.58,215.84 L480.89,216.26 L481.18,216.70 L481.46,217.16 L481.71,217.64 L481.94,218.14 L482.15,218.66 L482.33,219.19 L482.49,219.73 L482.62,220.28 L482.73,220.84 L482.81,221.40 L482.86,221.96 L482.88,222.52 L482.88,223.08 L482.85,223.64 L482.80,224.18 L482.71,224.72 L482.60,225.24 L482.47,225.75 L482.31,226.24 L482.12,226.71 L481.91,227.16 L481.68,227.58 L481.42,227.98 L481.14,228.36 L480.85,228.71 L480.53,229.02 L480.20,229.31 L479.86,229.56 L479.49,229.78 L479.12,229.96 L478.73,230.11 L478.34,230.22 L477.94,230.29 L477.53,230.33 L477.12,230.33 L476.71,230.30 L476.29,230.23 L475.88,230.12 L475.47,229.97 L475.06,229.79 L474.67,229.57 L474.28,229.32 L473.90,229.04 L473.53,228.73 L473.17,228.38 L472.83,228.01 L472.51,227.61 L472.20,227.19 L471.92,226.74 L471.65,226.27 L471.41,225.78 L471.19,225.28 L470.99,224.75 L470.81,224.22 L470.66,223.68 L470.54,223.12 L470.44,222.56 L470.37,222.00 L470.33,221.44 L470.31,220.88 L470.33,220.32 L470.36,219.77 L470.43,219.23 L470.52,218.70 L470.64,218.18 L470.79,217.68 L470.96,217.19 L471.15,216.73 L471.37,216.29 L471.61,215.87 L471.87,215.48" fill="none" stroke="#555" stroke-width="2.0" stroke-linecap="butt"/>
<path d="M473.58,213.90 L473.95,213.70 L474.33,213.54 L474.72,213.42 L475.12,213.33 L475.52,213.28 L475.93,213.26 L476.35,213.29 L476.76,213.35 L477.18,213.44 L477.59,213.57 L477.99,213.74 L478.39,213.95 L478.79,214.18 L479.17,214.45 L479.54,214.76 L479.90,215.09 L480.25,215.45 L480.58,215.84 L480.89,216.26 L481.18,216.70 L481.46,217.16 L481.71,217.64 L481.94,218.14 L482.15,218.66 L482.33,219.19 L482.49,219.73 L482.62,220.28 L482.73,220.84 L482.81,221.40 L482.86,221.96 L482.88,222.52 L482.88,223.08 L482.85,223.64 L482.80,224.18 L482.71,224.72 L482.60,225.24 L482.47,225.75 L482.31,226.24 L482.12,226.71 L481.91,227.16 L481.68,227.58 L481.42,227.98 L481.14,228.36 L480.85,228.71 L480.53,229.02 L480.20,229.31 L479.86,229.56 L479.49,229.78 L479.12,229.96 L478.73,230.11 L478.34,230.22 L477.94,230.29 L477.53,230.33 L477.12,230.33 L476.71,230.30 L476.29,230.23 L475.88,230.12 L475.47,229.97 L475.06,229.79 L474.67,229.57 L474.28,229.32 L473.90,229.04 L473.53,228.73 L473.17,228.38 L472.83,228.01 L472.51,227.61 L472.20,227.19 L471.92,226.74 L471.65,226.27 L471.41,225.78 L471.19,225.28 L470.99,224.75 L470.81,224.22 L470.66,223.68 L470.54,223.12 L470.44,222.56 L470.37,222.00 L470.33,221.44 L470.31,220.88 L470.33,220.32 L470.36,219.77 L470.43,219.23 L470.52,218.70 L470.64,218.18 L470.79,217.68 L470.96,217.19 L471.15,216.73 L471.37,216.29 L471.61,215.87 L471.87,215.48" fill="none" stroke="#ddd" stroke-width="0.9" stroke-linecap="butt"/>
<polyline points="481.5,231 486.5,239.7" fill="none" stroke="#333" stroke-width="0.7" stroke-dasharray="1.5 1"/>
<path d="M482.59,211.81 L482.59,211.07 L482.62,210.34 L482.68,209.62 L482.76,208.91 L482.87,208.21 L483.00,207.53 L483.15,206.87 L483.33,206.23 L483.53,205.61 L483.75,205.01 L484.00,204.43 L484.26,203.89 L484.55,203.37 L484.86,202.88 L485.19,202.41 L485.53,201.99 L485.89,201.59 L486.27,201.23 L486.67,200.90 L487.07,200.61 L487.49,200.36 L487.93,200.14 L488.37,199.96 L488.82,199.82 L489.28,199.72 L497.68,198.22 L498.15,198.16 L498.62,198.13 L499.10,198.15 L499.58,198.21 L500.06,198.30 L500.54,198.44 L501.03,198.61 L501.50,198.82 L501.98,199.07 L502.45,199.35 L502.92,199.67 L503.37,200.03 L503.82,200.42 L504.26,200.84 L504.69,201.30 L505.10,201.78 L505.50,202.30 L505.89,202.84 L506.26,203.41 L506.62,204.01 L506.95,204.62 L507.27,205.26 L507.57,205.92 L507.85,206.60 L508.11,207.29 L508.35,208.00 L508.56,208.72 L508.75,209.45 L508.92,210.19 L509.06,210.94 L509.18,211.69 L509.28,212.44 L509.35,213.19 L509.39,213.94 L509.41,214.69 L509.41,215.43 L509.38,216.16 L509.32,216.88 L509.24,217.59 L509.13,218.29 L509.00,218.97 L508.85,219.63 L508.67,220.27 L508.47,220.89 L508.25,221.49 L508.00,222.07 L507.74,222.61 L507.45,223.13 L507.14,223.62 L506.81,224.09 L506.47,224.51 L506.11,224.91 L505.73,225.27 L505.33,225.60 L504.93,225.89 L504.51,226.14 L504.07,226.36 L503.63,226.54 L503.18,226.68 L502.72,226.78 L494.32,228.28 L493.85,228.34 L493.38,228.37 L492.90,228.35 L492.42,228.29 L491.94,228.20 L491.46,228.06 L490.97,227.89 L490.50,227.68 L490.02,227.43 L489.55,227.15 L489.08,226.83 L488.63,226.47 L488.18,226.08 L487.74,225.66 L487.31,225.20 L486.90,224.72 L486.50,224.20 L486.11,223.66 L485.74,223.09 L485.38,222.49 L485.05,221.88 L484.73,221.24 L484.43,220.58 L484.15,219.90 L483.89,219.21 L483.65,218.50 L483.44,217.78 L483.25,217.05 L483.08,216.31 L482.94,215.56 L482.82,214.81 L482.72,214.06 L482.65,213.31 L482.61,212.56Z" fill="#e4e4e4" stroke="#707070" stroke-width="0.8" stroke-linejoin="round"/>
<ellipse cx="491.80" cy="214.00" rx="9.00" ry="14.50" transform="rotate(-10 491.80 214.00)" fill="none" stroke="#8a8a8a" stroke-width="0.6" />
<ellipse cx="497.00" cy="213.20" rx="6.80" ry="12.30" transform="rotate(-10 497.00 213.20)" fill="#fff" stroke="#666" stroke-width="0.7" />
<clipPath id="q3"><path d="M508.00,199.12 L508.01,198.48 L508.05,197.85 L508.10,197.25 L508.17,196.66 L508.26,196.09 L508.37,195.54 L508.49,195.02 L508.62,194.52 L508.78,194.05 L508.95,193.60 L509.13,193.19 L509.33,192.80 L509.55,192.44 L509.78,192.12 L510.02,191.83 L510.27,191.57 L510.53,191.34 L510.81,191.15 L511.10,191.00 L511.39,190.88 L511.69,190.79 L512.00,190.75 L523.50,189.25 L523.82,189.24 L524.15,189.26 L524.48,189.32 L524.81,189.42 L525.14,189.56 L525.48,189.72 L525.82,189.93 L526.16,190.17 L526.50,190.44 L526.84,190.75 L527.18,191.08 L527.51,191.45 L527.84,191.85 L528.16,192.28 L528.48,192.74 L528.79,193.22 L529.10,193.73 L529.39,194.26 L529.68,194.82 L529.96,195.39 L530.22,195.99 L530.47,196.60 L530.71,197.23 L530.94,197.88 L531.16,198.53 L531.36,199.20 L531.54,199.88 L531.71,200.56 L531.87,201.25 L532.01,201.94 L532.13,202.64 L532.24,203.33 L532.32,204.03 L532.39,204.71 L532.45,205.39 L532.49,206.07 L532.50,206.73 L532.50,207.38 L532.49,208.02 L532.45,208.65 L532.40,209.25 L532.33,209.84 L532.24,210.41 L532.13,210.96 L532.01,211.48 L531.88,211.98 L531.72,212.45 L531.55,212.90 L531.37,213.31 L531.16,213.70 L530.95,214.06 L530.72,214.38 L530.48,214.67 L530.23,214.93 L529.97,215.16 L529.69,215.35 L529.40,215.50 L529.11,215.62 L528.81,215.71 L528.50,215.75 L517.00,217.25 L516.68,217.26 L516.35,217.24 L516.02,217.18 L515.69,217.08 L515.36,216.94 L515.02,216.78 L514.68,216.57 L514.34,216.33 L514.00,216.06 L513.66,215.75 L513.32,215.42 L512.99,215.05 L512.66,214.65 L512.34,214.22 L512.02,213.76 L511.70,213.28 L511.40,212.77 L511.11,212.24 L510.82,211.68 L510.55,211.11 L510.28,210.51 L510.03,209.90 L509.79,209.27 L509.56,208.62 L509.34,207.97 L509.14,207.30 L508.96,206.62 L508.79,205.94 L508.63,205.25 L508.49,204.56 L508.37,203.86 L508.26,203.17 L508.18,202.47 L508.11,201.79 L508.05,201.11 L508.01,200.43 L508.00,199.77Z"/></clipPath>
<path d="M508.00,199.12 L508.01,198.48 L508.05,197.85 L508.10,197.25 L508.17,196.66 L508.26,196.09 L508.37,195.54 L508.49,195.02 L508.62,194.52 L508.78,194.05 L508.95,193.60 L509.13,193.19 L509.33,192.80 L509.55,192.44 L509.78,192.12 L510.02,191.83 L510.27,191.57 L510.53,191.34 L510.81,191.15 L511.10,191.00 L511.39,190.88 L511.69,190.79 L512.00,190.75 L523.50,189.25 L523.82,189.24 L524.15,189.26 L524.48,189.32 L524.81,189.42 L525.14,189.56 L525.48,189.72 L525.82,189.93 L526.16,190.17 L526.50,190.44 L526.84,190.75 L527.18,191.08 L527.51,191.45 L527.84,191.85 L528.16,192.28 L528.48,192.74 L528.79,193.22 L529.10,193.73 L529.39,194.26 L529.68,194.82 L529.96,195.39 L530.22,195.99 L530.47,196.60 L530.71,197.23 L530.94,197.88 L531.16,198.53 L531.36,199.20 L531.54,199.88 L531.71,200.56 L531.87,201.25 L532.01,201.94 L532.13,202.64 L532.24,203.33 L532.32,204.03 L532.39,204.71 L532.45,205.39 L532.49,206.07 L532.50,206.73 L532.50,207.38 L532.49,208.02 L532.45,208.65 L532.40,209.25 L532.33,209.84 L532.24,210.41 L532.13,210.96 L532.01,211.48 L531.88,211.98 L531.72,212.45 L531.55,212.90 L531.37,213.31 L531.16,213.70 L530.95,214.06 L530.72,214.38 L530.48,214.67 L530.23,214.93 L529.97,215.16 L529.69,215.35 L529.40,215.50 L529.11,215.62 L528.81,215.71 L528.50,215.75 L517.00,217.25 L516.68,217.26 L516.35,217.24 L516.02,217.18 L515.69,217.08 L515.36,216.94 L515.02,216.78 L514.68,216.57 L514.34,216.33 L514.00,216.06 L513.66,215.75 L513.32,215.42 L512.99,215.05 L512.66,214.65 L512.34,214.22 L512.02,213.76 L511.70,213.28 L511.40,212.77 L511.11,212.24 L510.82,211.68 L510.55,211.11 L510.28,210.51 L510.03,209.90 L509.79,209.27 L509.56,208.62 L509.34,207.97 L509.14,207.30 L508.96,206.62 L508.79,205.94 L508.63,205.25 L508.49,204.56 L508.37,203.86 L508.26,203.17 L508.18,202.47 L508.11,201.79 L508.05,201.11 L508.01,200.43 L508.00,199.77Z" fill="#a4a4a4" stroke="#3c3c3c" stroke-width="0.8" stroke-linejoin="round"/>
<g clip-path="url(#q3)"><line x1="524.60" y1="204.38" x2="531.22" y2="203.93" stroke="#e0e0e0" stroke-width="1.5" stroke-linecap="round"/><line x1="524.52" y1="207.83" x2="530.73" y2="209.27" stroke="#e0e0e0" stroke-width="1.5" stroke-linecap="round"/><line x1="523.63" y1="210.82" x2="528.68" y2="213.97" stroke="#e0e0e0" stroke-width="1.5" stroke-linecap="round"/><line x1="522.04" y1="212.98" x2="525.33" y2="217.46" stroke="#e0e0e0" stroke-width="1.5" stroke-linecap="round"/><line x1="519.94" y1="214.07" x2="521.06" y2="219.34" stroke="#e0e0e0" stroke-width="1.5" stroke-linecap="round"/><line x1="517.58" y1="213.93" x2="516.40" y2="219.36" stroke="#e0e0e0" stroke-width="1.5" stroke-linecap="round"/><line x1="515.25" y1="212.60" x2="511.91" y2="217.53" stroke="#e0e0e0" stroke-width="1.5" stroke-linecap="round"/><line x1="513.22" y1="210.23" x2="508.13" y2="214.07" stroke="#e0e0e0" stroke-width="1.5" stroke-linecap="round"/><line x1="511.75" y1="207.11" x2="505.52" y2="209.39" stroke="#e0e0e0" stroke-width="1.5" stroke-linecap="round"/><line x1="511.00" y1="203.62" x2="504.38" y2="204.07" stroke="#e0e0e0" stroke-width="1.5" stroke-linecap="round"/><line x1="511.08" y1="200.17" x2="504.87" y2="198.73" stroke="#e0e0e0" stroke-width="1.5" stroke-linecap="round"/><line x1="511.97" y1="197.18" x2="506.92" y2="194.03" stroke="#e0e0e0" stroke-width="1.5" stroke-linecap="round"/><line x1="513.56" y1="195.02" x2="510.27" y2="190.54" stroke="#e0e0e0" stroke-width="1.5" stroke-linecap="round"/><line x1="515.66" y1="193.93" x2="514.54" y2="188.66" stroke="#e0e0e0" stroke-width="1.5" stroke-linecap="round"/><line x1="518.02" y1="194.07" x2="519.20" y2="188.64" stroke="#e0e0e0" stroke-width="1.5" stroke-linecap="round"/><line x1="520.35" y1="195.40" x2="523.69" y2="190.47" stroke="#e0e0e0" stroke-width="1.5" stroke-linecap="round"/><line x1="522.38" y1="197.77" x2="527.47" y2="193.93" stroke="#e0e0e0" stroke-width="1.5" stroke-linecap="round"/><line x1="523.85" y1="200.89" x2="530.08" y2="198.61" stroke="#e0e0e0" stroke-width="1.5" stroke-linecap="round"/></g>
<ellipse cx="514.50" cy="204.00" rx="6.00" ry="13.50" transform="rotate(-12 514.50 204.00)" fill="none" stroke="#444" stroke-width="0.7" />
<ellipse cx="517.80" cy="204.00" rx="5.80" ry="9.80" transform="rotate(-12 517.80 204.00)" fill="#fff" stroke="#444" stroke-width="0.8" />
<path d="M490.99,270.37 L491.00,269.60 L491.03,268.85 L491.09,268.10 L491.18,267.36 L491.30,266.64 L491.44,265.94 L491.60,265.25 L491.79,264.59 L492.00,263.94 L492.24,263.32 L492.50,262.73 L492.79,262.16 L493.09,261.62 L493.42,261.11 L493.77,260.63 L494.13,260.19 L494.51,259.78 L494.92,259.40 L495.33,259.06 L495.76,258.76 L504.16,253.66 L504.61,253.39 L505.06,253.17 L505.53,252.98 L506.01,252.83 L506.50,252.73 L506.99,252.66 L507.49,252.64 L507.99,252.65 L508.50,252.71 L509.00,252.80 L509.51,252.94 L510.02,253.12 L510.53,253.33 L511.03,253.59 L511.52,253.88 L512.01,254.21 L512.49,254.58 L512.96,254.98 L513.42,255.42 L513.87,255.89 L514.31,256.39 L514.73,256.92 L515.14,257.48 L515.53,258.07 L515.90,258.69 L516.25,259.32 L516.59,259.99 L516.90,260.67 L517.19,261.37 L517.46,262.08 L517.71,262.81 L517.93,263.56 L518.13,264.31 L518.31,265.08 L518.46,265.85 L518.58,266.63 L518.68,267.40 L518.75,268.18 L518.79,268.96 L518.81,269.73 L518.80,270.50 L518.77,271.25 L518.71,272.00 L518.62,272.74 L518.50,273.46 L518.37,274.16 L518.20,274.85 L518.01,275.51 L517.80,276.16 L517.56,276.78 L517.30,277.37 L517.01,277.94 L516.71,278.48 L516.38,278.99 L516.03,279.47 L515.67,279.91 L515.28,280.32 L514.88,280.70 L514.47,281.04 L514.04,281.34 L505.64,286.44 L505.19,286.71 L504.74,286.93 L504.27,287.12 L503.79,287.27 L503.31,287.37 L502.81,287.44 L502.31,287.46 L501.81,287.45 L501.30,287.39 L500.80,287.30 L500.29,287.16 L499.78,286.98 L499.27,286.77 L498.77,286.51 L498.28,286.22 L497.79,285.89 L497.31,285.52 L496.84,285.12 L496.38,284.68 L495.93,284.21 L495.49,283.71 L495.07,283.18 L494.66,282.62 L494.27,282.03 L493.90,281.42 L493.55,280.78 L493.21,280.12 L492.90,279.43 L492.61,278.73 L492.34,278.02 L492.09,277.29 L491.87,276.54 L491.67,275.79 L491.49,275.02 L491.34,274.25 L491.22,273.47 L491.12,272.70 L491.05,271.92 L491.01,271.14Z" fill="#e3e3e3" stroke="#5a5a5a" stroke-width="0.7" stroke-linejoin="round"/>
<ellipse cx="500.70" cy="272.60" rx="9.50" ry="15.00" transform="rotate(-10 500.70 272.60)" fill="#e6e6e6" stroke="#777" stroke-width="0.6" />
<ellipse cx="500.70" cy="272.60" rx="7.98" ry="12.60" transform="rotate(-10 500.70 272.60)" fill="#9a9a9a" stroke="#2e2e2e" stroke-width="0.9" />
<clipPath id="k4"><ellipse cx="500.70" cy="272.60" rx="7.18" ry="11.34" transform="rotate(-10 500.70 272.60)"/></clipPath>
<g clip-path="url(#k4)"><rect x="494.71" y="262.02" width="11.97" height="2.57" rx="1.13" fill="#e2e2e2"/><rect x="494.71" y="265.80" width="11.97" height="2.57" rx="1.13" fill="#e2e2e2"/><rect x="494.71" y="269.58" width="11.97" height="2.57" rx="1.13" fill="#e2e2e2"/><rect x="494.71" y="273.36" width="11.97" height="2.57" rx="1.13" fill="#e2e2e2"/><rect x="494.71" y="277.14" width="11.97" height="2.57" rx="1.13" fill="#e2e2e2"/><rect x="494.71" y="280.92" width="11.97" height="2.57" rx="1.13" fill="#e2e2e2"/></g>
<polyline points="517.8,266.5 527,263.5" fill="none" stroke="#222" stroke-width="0.8" />
<path d="M481.31,267.30 L482.00,267.29 L482.69,267.34 L483.38,267.44 L484.06,267.60 L484.75,267.82 L485.42,268.09 L486.08,268.42 L486.73,268.80 L487.36,269.23 L487.97,269.71 L488.57,270.24 L489.13,270.81 L489.67,271.43 L490.18,272.09 L490.66,272.78 L491.11,273.51 L491.52,274.28 L491.89,275.07 L492.23,275.88 L492.53,276.72 L492.78,277.57 L493.00,278.44 L493.17,279.32 L493.29,280.21 L493.37,281.10 L493.41,281.99 L493.40,282.87 L493.35,283.75 L493.26,284.62 L493.12,285.47 L492.93,286.30 L492.71,287.11 L492.44,287.90 L492.13,288.65 L491.78,289.37 L491.39,290.06 L490.97,290.71 L490.51,291.32 L490.02,291.88 L489.50,292.40 L488.95,292.87 L488.38,293.29 L487.78,293.66 L487.16,293.98 L486.53,294.24 L485.87,294.44 L485.21,294.59 L484.53,294.68 L483.85,294.71 L483.16,294.69 L482.47,294.60 L481.78,294.46 L481.10,294.27 L480.42,294.01 L479.75,293.71 L479.10,293.34 L478.46,292.93 L477.84,292.47 L477.24,291.96 L476.67,291.40 L476.12,290.79 L475.60,290.15 L475.11,289.47 L474.65,288.75 L474.22,288.00 L473.84,287.22 L473.49,286.41 L473.18,285.58 L472.90,284.74 L472.68,283.87 L472.49,282.99 L472.35,282.11 L472.25,281.22 L472.20,280.33 L472.19,279.44 L472.22,278.56 L472.30,277.69 L472.43,276.83 L472.60,275.99 L472.81,275.18 L473.06,274.38 L473.36,273.62 L473.69,272.88 L474.06,272.18 L474.47,271.52 L474.92,270.90 L475.40,270.31 L475.91,269.78 L476.45,269.29 L477.01,268.85" fill="none" stroke="#555" stroke-width="2.4000000000000004" stroke-linecap="butt"/>
<path d="M481.31,267.30 L482.00,267.29 L482.69,267.34 L483.38,267.44 L484.06,267.60 L484.75,267.82 L485.42,268.09 L486.08,268.42 L486.73,268.80 L487.36,269.23 L487.97,269.71 L488.57,270.24 L489.13,270.81 L489.67,271.43 L490.18,272.09 L490.66,272.78 L491.11,273.51 L491.52,274.28 L491.89,275.07 L492.23,275.88 L492.53,276.72 L492.78,277.57 L493.00,278.44 L493.17,279.32 L493.29,280.21 L493.37,281.10 L493.41,281.99 L493.40,282.87 L493.35,283.75 L493.26,284.62 L493.12,285.47 L492.93,286.30 L492.71,287.11 L492.44,287.90 L492.13,288.65 L491.78,289.37 L491.39,290.06 L490.97,290.71 L490.51,291.32 L490.02,291.88 L489.50,292.40 L488.95,292.87 L488.38,293.29 L487.78,293.66 L487.16,293.98 L486.53,294.24 L485.87,294.44 L485.21,294.59 L484.53,294.68 L483.85,294.71 L483.16,294.69 L482.47,294.60 L481.78,294.46 L481.10,294.27 L480.42,294.01 L479.75,293.71 L479.10,293.34 L478.46,292.93 L477.84,292.47 L477.24,291.96 L476.67,291.40 L476.12,290.79 L475.60,290.15 L475.11,289.47 L474.65,288.75 L474.22,288.00 L473.84,287.22 L473.49,286.41 L473.18,285.58 L472.90,284.74 L472.68,283.87 L472.49,282.99 L472.35,282.11 L472.25,281.22 L472.20,280.33 L472.19,279.44 L472.22,278.56 L472.30,277.69 L472.43,276.83 L472.60,275.99 L472.81,275.18 L473.06,274.38 L473.36,273.62 L473.69,272.88 L474.06,272.18 L474.47,271.52 L474.92,270.90 L475.40,270.31 L475.91,269.78 L476.45,269.29 L477.01,268.85" fill="none" stroke="#d0d0d0" stroke-width="1.3" stroke-linecap="butt"/>
<polyline points="472.3,288 466.8,294.2" fill="none" stroke="#222" stroke-width="0.8" />
<polyline points="485.2,302.2 489.5,304 530.8,282 527,280.7" fill="none" stroke="#222" stroke-width="0.9" />
<polyline points="513,293 528.3,302.2" fill="none" stroke="#222" stroke-width="0.8" />
<polyline points="568.4,191 573.3,196.5" fill="none" stroke="#222" stroke-width="0.8" />
<path d="M567.04,209.81 L567.05,209.09 L567.09,208.38 L567.15,207.68 L567.25,206.99 L567.38,206.31 L567.53,205.64 L567.71,204.99 L567.92,204.36 L568.16,203.74 L568.42,203.14 L568.72,202.57 L569.03,202.02 L569.37,201.50 L569.73,201.00 L570.11,200.53 L570.52,200.09 L570.94,199.68 L571.39,199.30 L571.85,198.95 L572.33,198.64 L576.02,196.44 L576.52,196.16 L577.02,195.92 L577.54,195.71 L578.07,195.54 L578.61,195.40 L579.16,195.31 L579.71,195.25 L580.27,195.23 L580.83,195.24 L581.39,195.30 L581.96,195.39 L582.52,195.52 L583.08,195.68 L583.63,195.88 L584.18,196.12 L584.72,196.40 L585.26,196.71 L585.78,197.05 L586.29,197.42 L586.79,197.83 L587.27,198.26 L587.74,198.73 L588.19,199.22 L588.62,199.75 L589.03,200.29 L589.43,200.86 L589.80,201.46 L590.14,202.07 L590.47,202.70 L590.77,203.35 L591.04,204.02 L591.29,204.70 L591.51,205.39 L591.70,206.09 L591.87,206.80 L592.00,207.51 L592.11,208.23 L592.19,208.95 L592.24,209.67 L592.26,210.39 L592.25,211.10 L592.22,211.81 L592.15,212.52 L592.05,213.21 L591.92,213.89 L591.77,214.56 L591.59,215.21 L591.38,215.84 L591.14,216.46 L590.88,217.06 L590.59,217.63 L590.27,218.18 L589.93,218.70 L589.57,219.20 L589.19,219.67 L588.78,220.11 L588.36,220.52 L587.91,220.90 L587.45,221.25 L586.98,221.56 L583.27,223.76 L582.78,224.04 L582.28,224.28 L581.76,224.49 L581.23,224.66 L580.69,224.80 L580.14,224.89 L579.59,224.95 L579.03,224.97 L578.47,224.96 L577.91,224.90 L577.35,224.81 L576.78,224.68 L576.22,224.52 L575.67,224.31 L575.12,224.08 L574.58,223.80 L574.04,223.50 L573.52,223.15 L573.01,222.78 L572.51,222.37 L572.03,221.94 L571.56,221.47 L571.11,220.97 L570.68,220.45 L570.27,219.91 L569.87,219.34 L569.50,218.74 L569.16,218.13 L568.83,217.50 L568.53,216.85 L568.26,216.18 L568.01,215.50 L567.79,214.81 L567.60,214.11 L567.43,213.40 L567.29,212.69 L567.19,211.97 L567.11,211.25 L567.06,210.53Z" fill="#d0d0d0" stroke="#3c3c3c" stroke-width="0.8" stroke-linejoin="round"/>
<ellipse cx="577.80" cy="211.20" rx="10.60" ry="13.90" transform="rotate(-12 577.80 211.20)" fill="#dedede" stroke="#3c3c3c" stroke-width="0.8" />
<ellipse cx="577.80" cy="211.20" rx="10.00" ry="13.30" transform="rotate(-12 577.80 211.20)" fill="none" stroke="#444" stroke-width="0.9" />
<ellipse cx="577.60" cy="211.20" rx="9.00" ry="12.20" transform="rotate(-12 577.60 211.20)" fill="none" stroke="#555" stroke-width="0.6" />
<ellipse cx="577.60" cy="211.20" rx="6.80" ry="9.80" transform="rotate(-12 577.60 211.20)" fill="#fff" stroke="#333" stroke-width="0.8" />
<ellipse cx="577.60" cy="211.20" rx="5.80" ry="8.60" transform="rotate(-12 577.60 211.20)" fill="none" stroke="#888" stroke-width="0.5" />
<polyline points="590.5,181.7 598.5,190.3" fill="none" stroke="#222" stroke-width="0.8" />
<path d="M591.90,201.92 L591.91,201.44 L591.95,200.97 L592.00,200.51 L592.06,200.05 L592.15,199.60 L592.25,199.16 L592.37,198.73 L592.51,198.31 L592.66,197.91 L592.83,197.52 L593.02,197.15 L593.22,196.79 L593.43,196.45 L593.66,196.13 L593.90,195.83 L594.15,195.55 L594.42,195.29 L594.70,195.05 L594.99,194.84 L595.28,194.65 L595.59,194.48 L595.90,194.33 L604.40,190.63 L604.73,190.51 L605.05,190.41 L605.38,190.34 L605.72,190.29 L606.06,190.27 L606.41,190.28 L606.75,190.31 L607.10,190.36 L607.44,190.44 L607.79,190.54 L608.13,190.67 L608.47,190.83 L608.80,191.00 L609.13,191.20 L609.46,191.43 L609.77,191.67 L610.08,191.94 L610.38,192.23 L610.68,192.53 L610.96,192.86 L611.23,193.20 L611.49,193.56 L611.74,193.94 L611.97,194.34 L612.19,194.74 L612.40,195.16 L612.59,195.60 L612.76,196.04 L612.93,196.49 L613.07,196.95 L613.20,197.42 L613.31,197.89 L613.40,198.37 L613.48,198.85 L613.53,199.34 L613.58,199.82 L613.60,200.30 L613.60,200.78 L613.59,201.26 L613.55,201.73 L613.50,202.19 L613.44,202.65 L613.35,203.10 L613.25,203.54 L613.13,203.97 L612.99,204.39 L612.84,204.79 L612.67,205.18 L612.48,205.55 L612.28,205.91 L612.07,206.25 L611.84,206.57 L611.60,206.87 L611.35,207.15 L611.08,207.41 L610.80,207.65 L610.51,207.86 L610.22,208.06 L609.91,208.22 L609.60,208.37 L601.10,212.07 L600.77,212.19 L600.45,212.29 L600.12,212.36 L599.78,212.41 L599.44,212.43 L599.09,212.42 L598.75,212.39 L598.40,212.34 L598.06,212.26 L597.71,212.16 L597.37,212.03 L597.03,211.87 L596.70,211.70 L596.37,211.50 L596.04,211.27 L595.73,211.03 L595.42,210.76 L595.12,210.47 L594.82,210.17 L594.54,209.84 L594.27,209.50 L594.01,209.13 L593.76,208.76 L593.53,208.36 L593.31,207.96 L593.10,207.54 L592.91,207.10 L592.74,206.66 L592.57,206.21 L592.43,205.75 L592.30,205.28 L592.19,204.81 L592.10,204.33 L592.02,203.85 L591.97,203.37 L591.92,202.88 L591.90,202.40Z" fill="#dcdcdc" stroke="#666" stroke-width="0.8" stroke-linejoin="round"/>
<ellipse cx="598.50" cy="203.20" rx="6.50" ry="9.30" transform="rotate(-10 598.50 203.20)" fill="none" stroke="#8a8a8a" stroke-width="0.6" />
<ellipse cx="599.50" cy="203.00" rx="5.20" ry="7.80" transform="rotate(-10 599.50 203.00)" fill="#fff" stroke="#666" stroke-width="0.7" />
<ellipse cx="598.50" cy="203.20" rx="6.20" ry="9.00" transform="rotate(-10 598.50 203.20)" fill="none" stroke="#333" stroke-width="1.1" />
<ellipse cx="600.50" cy="202.50" rx="3.60" ry="6.60" transform="rotate(-10 600.50 202.50)" fill="none" stroke="#999" stroke-width="0.6" />
<path d="M567.04,218.96 L567.19,219.74 L567.30,220.53 L567.37,221.32 L567.41,222.10 L567.41,222.87 L567.38,223.63 L567.30,224.38 L567.19,225.11 L567.05,225.81 L566.87,226.49 L566.65,227.14 L566.40,227.76 L566.12,228.34 L565.81,228.89 L565.47,229.39 L565.10,229.85 L564.71,230.26 L564.29,230.63 L563.85,230.95 L563.39,231.21 L562.91,231.43 L562.42,231.59 L561.92,231.70 L561.40,231.75 L560.88,231.75 L560.35,231.69 L559.82,231.58 L559.29,231.41 L558.76,231.20 L558.23,230.93 L557.72,230.60 L557.21,230.23 L556.72,229.82 L556.24,229.35 L555.78,228.85 L555.34,228.30 L554.92,227.71 L554.52,227.09 L554.15,226.44 L553.81,225.76 L553.50,225.05 L553.21,224.32 L552.96,223.57 L552.74,222.81 L552.56,222.04 L552.41,221.26 L552.30,220.47 L552.23,219.69 L552.19,218.90 L552.19,218.13 L552.22,217.37 L552.30,216.62 L552.41,215.89 L552.55,215.19 L552.73,214.51 L552.95,213.86 L553.20,213.24 L553.48,212.66 L553.79,212.12 L554.13,211.61 L554.50,211.15 L554.89,210.74 L555.31,210.37 L555.75,210.05 L556.21,209.79 L556.69,209.57 L557.18,209.41 L557.68,209.30 L558.20,209.25 L558.72,209.25 L559.25,209.31 L559.78,209.42 L560.31,209.58 L560.84,209.80 L561.37,210.07 L561.88,210.40 L562.39,210.77 L562.88,211.18 L563.36,211.65 L563.82,212.15 L564.26,212.70 L564.68,213.29 L565.08,213.91 L565.45,214.56 L565.79,215.24 L566.10,215.95 L566.39,216.68 L566.64,217.42 L566.86,218.19 L567.04,218.96" fill="none" stroke="#555" stroke-width="2.7" stroke-linecap="butt"/>
<path d="M567.04,218.96 L567.19,219.74 L567.30,220.53 L567.37,221.32 L567.41,222.10 L567.41,222.87 L567.38,223.63 L567.30,224.38 L567.19,225.11 L567.05,225.81 L566.87,226.49 L566.65,227.14 L566.40,227.76 L566.12,228.34 L565.81,228.89 L565.47,229.39 L565.10,229.85 L564.71,230.26 L564.29,230.63 L563.85,230.95 L563.39,231.21 L562.91,231.43 L562.42,231.59 L561.92,231.70 L561.40,231.75 L560.88,231.75 L560.35,231.69 L559.82,231.58 L559.29,231.41 L558.76,231.20 L558.23,230.93 L557.72,230.60 L557.21,230.23 L556.72,229.82 L556.24,229.35 L555.78,228.85 L555.34,228.30 L554.92,227.71 L554.52,227.09 L554.15,226.44 L553.81,225.76 L553.50,225.05 L553.21,224.32 L552.96,223.57 L552.74,222.81 L552.56,222.04 L552.41,221.26 L552.30,220.47 L552.23,219.69 L552.19,218.90 L552.19,218.13 L552.22,217.37 L552.30,216.62 L552.41,215.89 L552.55,215.19 L552.73,214.51 L552.95,213.86 L553.20,213.24 L553.48,212.66 L553.79,212.12 L554.13,211.61 L554.50,211.15 L554.89,210.74 L555.31,210.37 L555.75,210.05 L556.21,209.79 L556.69,209.57 L557.18,209.41 L557.68,209.30 L558.20,209.25 L558.72,209.25 L559.25,209.31 L559.78,209.42 L560.31,209.58 L560.84,209.80 L561.37,210.07 L561.88,210.40 L562.39,210.77 L562.88,211.18 L563.36,211.65 L563.82,212.15 L564.26,212.70 L564.68,213.29 L565.08,213.91 L565.45,214.56 L565.79,215.24 L566.10,215.95 L566.39,216.68 L566.64,217.42 L566.86,218.19 L567.04,218.96" fill="none" stroke="#d6d6d6" stroke-width="1.6" stroke-linecap="butt"/>
<polyline points="567,233.4 571.5,241.4" fill="none" stroke="#222" stroke-width="0.8" />
<path d="M437,328.5 L471,315 L472.5,318.8 L438.5,332.3Z" fill="#d4d4d4" stroke="#333" stroke-width="0.7"/>
<polyline points="439,328.3 439.6,331.8" fill="none" stroke="#444" stroke-width="0.5" />
<polyline points="441,327.5 441.6,331.0" fill="none" stroke="#444" stroke-width="0.5" />
<polyline points="443,326.7 443.6,330.2" fill="none" stroke="#444" stroke-width="0.5" />
<polyline points="445,325.90000000000003 445.6,329.40000000000003" fill="none" stroke="#444" stroke-width="0.5" />
<polyline points="447,325.1 447.6,328.6" fill="none" stroke="#444" stroke-width="0.5" />
<polyline points="449,324.3 449.6,327.8" fill="none" stroke="#444" stroke-width="0.5" />
<ellipse cx="437.70" cy="330.40" rx="1.20" ry="1.90" transform="rotate(-20 437.70 330.40)" fill="#eee" stroke="#3c3c3c" stroke-width="0.5" />
<path d="M468,316.5 L470,312.5 L474,311.5 L476.5,314 L476.5,319 L473,321.5 L470,320.5Z" fill="#ccc" stroke="#333" stroke-width="0.7"/>
<ellipse cx="471.00" cy="317.00" rx="2.60" ry="4.00" transform="rotate(-15 471.00 317.00)" fill="#ddd" stroke="#3c3c3c" stroke-width="0.6" />
<polyline points="472.5,322.6 486,331.2" fill="none" stroke="#222" stroke-width="0.8" />
<polyline points="467.2,361.2 464.8,373" fill="none" stroke="#222" stroke-width="0.8" />
<path d="M426.99,396.64 L426.99,395.81 L427.03,395.00 L427.11,394.22 L427.23,393.47 L427.38,392.75 L427.56,392.06 L427.79,391.41 L428.05,390.80 L428.35,390.23 L428.68,389.69 L429.04,389.20 L429.43,388.75 L429.86,388.35 L430.31,387.99 L430.80,387.68 L431.31,387.42 L460.01,373.42 L460.55,373.20 L461.11,373.03 L461.70,372.91 L462.31,372.85 L462.93,372.83 L463.58,372.86 L464.24,372.94 L464.92,373.07 L465.60,373.25 L466.30,373.48 L467.01,373.75 L467.72,374.08 L468.44,374.45 L469.17,374.86 L469.89,375.32 L470.61,375.83 L471.33,376.37 L472.04,376.95 L472.75,377.58 L473.45,378.24 L474.13,378.93 L474.81,379.66 L475.47,380.42 L476.11,381.20 L476.74,382.02 L477.35,382.86 L477.93,383.72 L478.49,384.60 L479.03,385.50 L479.54,386.41 L480.02,387.34 L480.47,388.28 L480.90,389.22 L481.29,390.17 L481.65,391.12 L481.98,392.07 L482.27,393.02 L482.53,393.96 L482.75,394.90 L482.94,395.82 L483.08,396.73 L483.20,397.63 L483.27,398.50 L483.31,399.36 L483.31,400.19 L483.27,401.00 L483.19,401.78 L483.07,402.53 L482.92,403.25 L482.74,403.94 L482.51,404.59 L482.25,405.20 L481.95,405.77 L481.62,406.31 L481.26,406.80 L480.87,407.25 L480.44,407.65 L479.99,408.01 L479.50,408.32 L478.99,408.58 L450.29,422.58 L449.75,422.80 L449.19,422.97 L448.60,423.09 L447.99,423.15 L447.37,423.17 L446.72,423.14 L446.06,423.06 L445.38,422.93 L444.70,422.75 L444.00,422.52 L443.29,422.25 L442.58,421.92 L441.86,421.55 L441.13,421.14 L440.41,420.68 L439.69,420.17 L438.97,419.63 L438.26,419.05 L437.55,418.42 L436.85,417.76 L436.17,417.07 L435.49,416.34 L434.83,415.58 L434.19,414.80 L433.56,413.98 L432.95,413.14 L432.37,412.28 L431.81,411.40 L431.27,410.50 L430.76,409.59 L430.28,408.66 L429.83,407.72 L429.40,406.78 L429.01,405.83 L428.65,404.88 L428.32,403.93 L428.03,402.98 L427.77,402.04 L427.55,401.10 L427.36,400.18 L427.21,399.27 L427.10,398.37 L427.03,397.50Z" fill="#d8d8d8" stroke="#3c3c3c" stroke-width="0.9" stroke-linejoin="round"/>
<ellipse cx="440.80" cy="405.00" rx="11.00" ry="20.00" transform="rotate(-30 440.80 405.00)" fill="#dcdcdc" stroke="#3c3c3c" stroke-width="0.9" />
<ellipse cx="440.80" cy="405.00" rx="9.90" ry="18.40" transform="rotate(-30 440.80 405.00)" fill="none" stroke="#555" stroke-width="0.6" />
<ellipse cx="440.80" cy="405.00" rx="7.60" ry="14.50" transform="rotate(-30 440.80 405.00)" fill="#d2d2d2" stroke="#555" stroke-width="0.6" />
<ellipse cx="440.80" cy="405.00" rx="5.40" ry="10.50" transform="rotate(-30 440.80 405.00)" fill="#dcdcdc" stroke="#666" stroke-width="0.5" />
<ellipse cx="439.80" cy="404.00" rx="2.60" ry="4.60" transform="rotate(-30 439.80 404.00)" fill="#6a6a6a" stroke="#333" stroke-width="0.6" />
<ellipse cx="434.50" cy="396.00" rx="1.10" ry="1.50" transform="rotate(0 434.50 396.00)" fill="#999" stroke="none" stroke-width="0" />
<ellipse cx="438.00" cy="393.50" rx="1.10" ry="1.50" transform="rotate(0 438.00 393.50)" fill="#999" stroke="none" stroke-width="0" />
<ellipse cx="444.50" cy="401.00" rx="1.10" ry="1.50" transform="rotate(0 444.50 401.00)" fill="#999" stroke="none" stroke-width="0" />
<ellipse cx="446.00" cy="408.50" rx="1.10" ry="1.50" transform="rotate(0 446.00 408.50)" fill="#999" stroke="none" stroke-width="0" />
<ellipse cx="443.00" cy="415.00" rx="1.10" ry="1.50" transform="rotate(0 443.00 415.00)" fill="#999" stroke="none" stroke-width="0" />
<ellipse cx="436.00" cy="414.00" rx="1.10" ry="1.50" transform="rotate(0 436.00 414.00)" fill="#999" stroke="none" stroke-width="0" />
<ellipse cx="433.50" cy="406.00" rx="1.10" ry="1.50" transform="rotate(0 433.50 406.00)" fill="#999" stroke="none" stroke-width="0" />
<rect x="464.5" y="377.5" width="5" height="4" transform="rotate(-20 467 379.5)" fill="#eee" stroke="#444" stroke-width="0.6"/>
<rect x="471.5" y="387.5" width="5" height="4" transform="rotate(-20 474 389.5)" fill="#eee" stroke="#444" stroke-width="0.6"/>
<rect x="475.0" y="398" width="5" height="4" transform="rotate(-20 477.5 400)" fill="#eee" stroke="#444" stroke-width="0.6"/>
<rect x="473.5" y="405.5" width="5" height="4" transform="rotate(-20 476 407.5)" fill="#eee" stroke="#444" stroke-width="0.6"/>
<polyline points="410,402 417,408" fill="none" stroke="#222" stroke-width="0.8" />
<path d="M418.5,409 L422,405.5 L427,406.5 L428,411.5 L425,415.5 L420,415Z" fill="#888" stroke="#333" stroke-width="0.7"/>
<ellipse cx="422.50" cy="410.50" rx="3.20" ry="4.00" transform="rotate(-15 422.50 410.50)" fill="#aaa" stroke="#333" stroke-width="0.5" />
<ellipse cx="422.30" cy="410.50" rx="1.50" ry="2.00" transform="rotate(-15 422.30 410.50)" fill="#666" stroke="none" stroke-width="0" />
<text transform="translate(144 289) scale(1 1.0)" x="0" y="0" class="t" style="font-size:7px">rom102</text>
<text transform="translate(38 395) scale(1 1.07)" x="0" y="0" class="t" style="font-size:11px">1</text>
<text transform="translate(62 388) scale(1 1.07)" x="0" y="0" class="t" style="font-size:11px">2</text>
<text transform="translate(98 363) scale(1 1.07)" x="0" y="0" class="t" style="font-size:11px">3</text>
<text transform="translate(127 444) scale(1 1.07)" x="0" y="0" class="t" style="font-size:11px">4</text>
<text transform="translate(93 394) scale(1 1.07)" x="0" y="0" class="t" style="font-size:11px">5</text>
<text transform="translate(157.7 461) scale(1 1.07)" x="0" y="0" class="t" style="font-size:11px">6</text>
<text transform="translate(234 308) scale(1 1.07)" x="0" y="0" class="t" style="font-size:11px">7</text>
<text transform="translate(247 299) scale(1 1.07)" x="0" y="0" class="t" style="font-size:11px">8</text>
<text transform="translate(267 292) scale(1 1.07)" x="0" y="0" class="t" style="font-size:11px">9</text>
<text transform="translate(313 403) scale(1 1.07)" x="0" y="0" class="t" style="font-size:11px">10</text>
<text transform="translate(336 391) scale(1 1.07)" x="0" y="0" class="t" style="font-size:11px">11</text>
<text transform="translate(462 303.2) scale(1 1.07)" x="0" y="0" class="t" style="font-size:11px">12</text>
<text transform="translate(403 401) scale(1 1.07)" x="0" y="0" class="t" style="font-size:11px">13</text>
<text transform="translate(469 359) scale(1 1.07)" x="0" y="0" class="t" style="font-size:11px">14</text>
<text transform="translate(382 206) scale(1 1.07)" x="0" y="0" class="t" style="font-size:11px">15</text>
<text transform="translate(364 218) scale(1 1.07)" x="0" y="0" class="t" style="font-size:11px">16</text>
<text transform="translate(492 339) scale(1 1.07)" x="0" y="0" class="t" style="font-size:11px">17</text>
<text transform="translate(452 200) scale(1 1.07)" x="0" y="0" class="t" style="font-size:11px">18</text>
<text transform="translate(491 250) scale(1 1.07)" x="0" y="0" class="t" style="font-size:11px">19</text>
<text transform="translate(565 189) scale(1 1.07)" x="0" y="0" class="t" style="font-size:11px">20</text>
<text transform="translate(588 182) scale(1 1.07)" x="0" y="0" class="t" style="font-size:11px">21</text>
<text transform="translate(575 251) scale(1 1.07)" x="0" y="0" class="t" style="font-size:11px">22</text>
<text transform="translate(532 266) scale(1 1.07)" x="0" y="0" class="t" style="font-size:11px">4</text>
<text transform="translate(427.6 181.3) scale(1 1.07)" x="0" y="0" class="t" style="font-size:11px">2000-2002</text>
<text transform="translate(540.8 312.1) scale(1 1.07)" x="0" y="0" class="t" style="font-size:11px">2003-up</text>
<circle cx="490.5" cy="245.8" r="13" fill="none" stroke="#e02424" stroke-width="1.8"/>
</svg>
</body></html>
